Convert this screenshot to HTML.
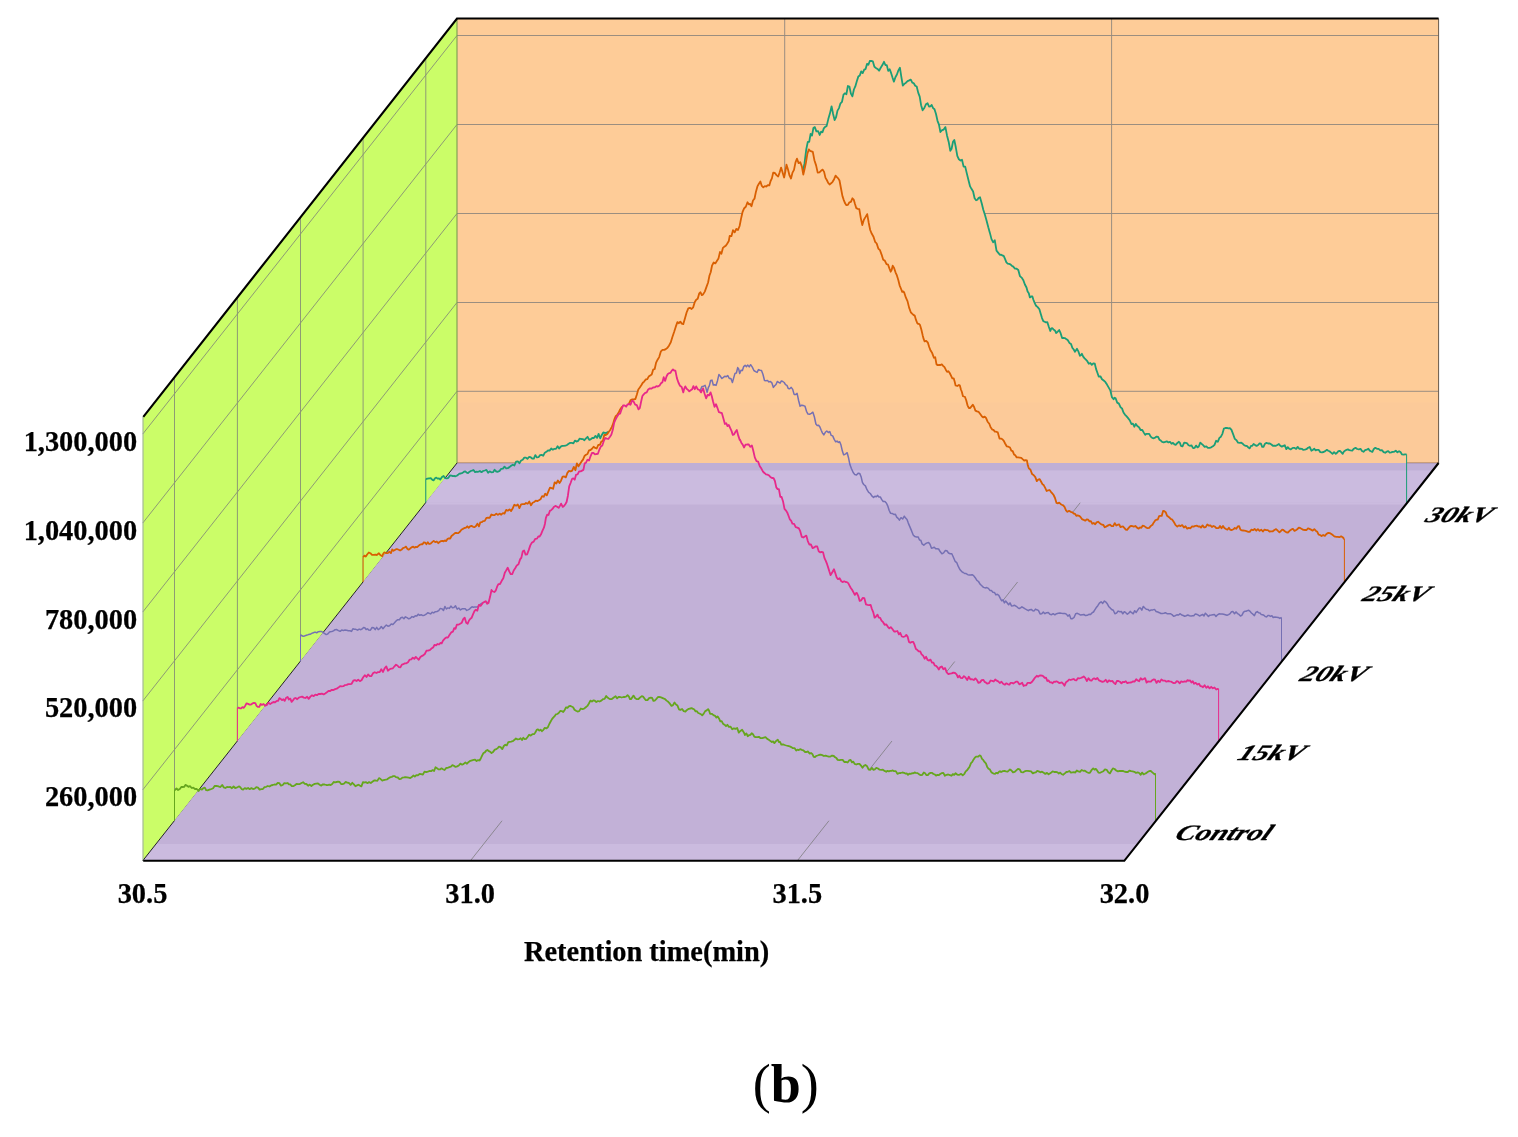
<!DOCTYPE html>
<html lang="en">
<head>
<meta charset="utf-8">
<title>Chromatogram (b)</title>
<style>
html,body{margin:0;padding:0;background:#fff;}
body{width:1518px;height:1137px;overflow:hidden;}
svg{display:block;}
text{font-family:"Liberation Serif","DejaVu Serif",serif;fill:#000;}
.ax{font-weight:bold;font-size:28.4px;stroke:#000;stroke-width:0.25px;stroke-linejoin:round;}
.zl{font-weight:bold;font-style:italic;font-size:22px;stroke:#000;stroke-width:0.3px;stroke-linejoin:round;}
.g{stroke:#787878;stroke-width:0.95;fill:none;opacity:0.78;}
.k{stroke:#000;stroke-width:2.1;fill:none;stroke-linecap:butt;stroke-linejoin:miter;}
.c{fill:none;stroke-linejoin:round;stroke-linecap:butt;}
</style>
</head>
<body>
<svg width="1518" height="1137" viewBox="0 0 1518 1137">
<defs>
<g id="bg">
<polygon points="142.7,860.8 142.7,416.9 457.0,18.5 457.0,463.0" fill="#CBFD68"/>
<rect x="457.0" y="18.5" width="981.5999999999999" height="444.5" fill="#FECC98"/>
<rect x="457.0" y="402.5" width="981.5999999999999" height="60.5" fill="#FCCA99"/>
<polygon id="floor" points="142.7,860.8 1124.3,860.8 1438.6,463.0 457.0,463.0" fill="#C2B1D7"/>
<g clip-path="url(#fc)">
<rect x="140" y="463" width="1300" height="7.5" fill="#BFAFD6"/>
<rect x="140" y="470.5" width="1300" height="34" fill="#CBBBDF"/>
<rect x="140" y="844" width="1300" height="18" fill="#CBBBDF"/>
</g>
</g>
<clipPath id="fc"><polygon points="142.7,860.8 1124.3,860.8 1438.6,463.0 457.0,463.0"/></clipPath>
<clipPath id="a-teal"><path d="M425.8,502.6 L425.8,479.2 L427.5,478.6 L429.1,478.3 L430.8,478.2 L432.4,479.8 L433.7,480.3 L435,478.2 L436.3,477.6 L437.6,478.6 L439,478.4 L440.3,479.6 L442,476.9 L443.6,475.9 L445.2,478.2 L446.9,478.3 L448.4,477.8 L450,475.5 L451.5,475.6 L452.8,476.1 L454.2,476 L455.5,476.3 L456.8,475.7 L458.1,474.8 L459.4,473.6 L460.9,473.5 L462.5,472.9 L464,471.7 L465.3,471.3 L466.7,472.7 L468,473 L469.3,471.9 L470.7,471 L472,470.6 L473.5,470 L475.1,472.1 L476.6,471.7 L478.2,471.8 L479.9,471 L481.5,472.2 L483.1,471 L484.8,470.5 L486.4,469.9 L488.1,472.8 L489.7,471.4 L491.4,472.3 L493,472.2 L494.6,469.8 L496.3,471.5 L497.9,471.8 L499.6,470.9 L501.2,468.8 L502.9,468.6 L504.5,466.7 L506.2,468.3 L507.8,468.1 L509.5,467.1 L511.1,465.8 L512.8,464.7 L514.4,465.5 L516.1,461.7 L517.8,461.3 L519.4,463.2 L521.1,460.5 L522.7,459.7 L524.3,457.6 L525.9,457.6 L527.4,458.8 L529,457 L530.6,457.2 L532.2,458.5 L533.8,458.6 L535.3,455.1 L536.9,457.4 L538.5,457.2 L540.1,455.1 L541.7,454.8 L543.2,455.8 L544.8,452.7 L546.4,451.8 L548,450.3 L549.6,450.6 L551.2,448.5 L552.8,449.7 L554.4,448.8 L556,448.9 L557.6,446.2 L559.1,448.6 L560.7,446.6 L562.3,445.9 L563.9,445.8 L565.5,445.7 L567,445 L568.6,443.8 L570.2,442.9 L571.8,442.9 L573.4,443.4 L574.9,440.6 L576.5,441.6 L578.1,440.9 L579.7,438.6 L581.3,439 L582.8,439.1 L584.4,440.2 L586,438.4 L587.6,436.8 L589.2,439.8 L590.7,439.3 L592.3,438 L593.9,438 L595.5,435.9 L597.1,437.9 L598.6,433.9 L600.2,438.3 L601.8,435 L603.3,432.5 L604.8,432.8 L606.3,433.1 L607.8,432 L609.4,431.6 L611.1,430 L612.7,432.2 L614.3,429.2 L615.9,430 L617.6,429.8 L619.2,425.3 L620.8,428 L622.4,427.1 L624.1,424.6 L625.7,424.1 L627.3,422.7 L628.9,422.8 L630.6,425.2 L632.2,422.4 L633.8,422.6 L635.5,419.4 L637.1,420 L638.7,418.7 L640.3,417.1 L642,417.4 L643.6,415.5 L645.2,416.4 L646.8,415.9 L648.5,411.1 L650.1,413.3 L651.7,410.7 L653.3,409.9 L655,411.7 L656.6,409.3 L658.2,409.6 L659.9,405.7 L661.5,406.9 L663.1,403.2 L664.7,402.9 L666.4,399.3 L668,402.5 L669.6,400.3 L671.2,399.1 L672.9,393.9 L674.5,397.6 L676.1,392.3 L677.7,393.3 L679.4,389.5 L681,389.8 L682.6,388.9 L684.2,386.7 L685.9,384.2 L687.5,383.5 L689.1,381.6 L690.7,376.2 L692.3,377.1 L694,374.9 L695.6,374.2 L697.2,369.3 L698.8,370.8 L700.4,367.5 L702.1,363.5 L703.7,366.6 L705.3,361.8 L706.9,359 L708.6,359.5 L710.2,355.5 L711.8,352.8 L713.4,349.2 L715.1,344.9 L716.7,343.4 L718.3,342.9 L719.9,340.6 L721.6,336.9 L723.2,332.3 L724.8,335.5 L726.4,330 L728.1,327.3 L729.7,324.7 L731.3,324.3 L733,319 L734.6,315.9 L736.2,313.2 L737.8,307.3 L739.5,309.1 L741.1,302.1 L742.7,301.5 L744.3,294.8 L746,296.5 L747.6,288 L749.2,289.1 L750.8,284.9 L752.5,279.3 L754.1,279.1 L755.7,277.7 L757.4,273.7 L759,265.3 L760.6,264.1 L762.2,265 L763.9,259.7 L765.5,253.7 L767.1,251.8 L768.7,249.5 L770.4,242.1 L772,242.7 L773.6,235.4 L775.2,236.8 L776.9,232.6 L778.5,227.1 L780.1,220.1 L781.8,219.7 L783.4,218.4 L785,210.8 L786.6,209.2 L788.3,205.9 L789.9,201.3 L791.5,198.4 L793.1,195 L794.8,187.5 L796.4,184.8 L798,181.9 L799.6,177 L801.3,175.5 L802.9,171.6 L804.5,163.4 L806.2,149.8 L807.8,141.9 L809.2,141.8 L810.6,133.9 L812,135.6 L813.4,128 L814.8,127.1 L816.4,131.4 L818.1,131.2 L819.7,135 L821.1,131.7 L822.5,132.2 L823.8,128.4 L825.2,126.8 L826.6,126.1 L828.3,119.1 L829.9,113.6 L831.6,106.3 L833.1,114 L834.6,120.1 L836.1,117 L837.5,110.6 L839,108.1 L840.5,103.3 L842,101.8 L843.5,94.6 L845,93.3 L846.4,94.2 L847.9,86 L849.4,86.5 L850.9,93.6 L852.4,96.4 L853.9,89.5 L855.3,86.4 L856.8,81.2 L858.3,76.6 L859.8,75.5 L861.2,71.3 L862.7,73.1 L864.2,69.7 L865.6,69.1 L867,63.9 L868.4,64.7 L869.8,61 L871.2,60.8 L872.8,61.3 L874.4,66.8 L875.9,67.9 L877.5,68.9 L879.1,70.7 L880.7,67.8 L882.4,65.1 L884,61.8 L885.4,65 L886.8,65.1 L888.2,70.9 L889.6,69.2 L891,72.7 L892.5,77.5 L893.9,81.6 L895.4,77.2 L896.9,74.5 L898.4,70.4 L899.9,67.7 L901.3,76.7 L902.8,85.5 L904.4,83.9 L906,82.7 L907.6,81.1 L909.2,80.4 L910.8,79.6 L912.3,82.6 L913.8,83.3 L915.2,85.8 L916.7,86.5 L918.2,92.6 L919.7,96.6 L921.1,105.2 L922.6,110.3 L924.3,108 L925.9,104.3 L927.6,103.3 L929,106.5 L930.4,106.3 L931.7,105 L933.1,108.1 L934.5,109.3 L936,114 L937.5,120.8 L938.9,124.3 L940.4,132 L942.1,130.2 L943.7,129.6 L945.4,127.1 L947,135.4 L948.7,141.9 L950.3,150.8 L951.6,148.7 L953,141.8 L954.3,139.9 L955.8,147.3 L957.3,155.8 L958.9,159.3 L960.5,160.5 L962,159.8 L963.6,166.6 L965.2,166.6 L966.8,173.4 L968.5,180.3 L970.1,186.4 L971.6,189.1 L973.1,191.5 L974.6,198.2 L976.1,200.3 L977.4,199.7 L978.7,197.8 L980,197.3 L981.7,203.2 L983.3,209.7 L985,215.1 L986.6,220.7 L988.3,227.3 L989.9,232.9 L991.5,239.1 L993.2,242.3 L994.8,240.3 L996.5,250.7 L998.1,252.6 L999.8,254.8 L1001.1,254.7 L1002.4,255.5 L1003.7,255.8 L1005,258.8 L1006.4,262.4 L1007.7,263.7 L1009,263.9 L1010.4,264.4 L1011.7,265.7 L1013.3,266.6 L1015,268.7 L1016.6,268.7 L1018.3,270 L1019.9,276.1 L1021.6,277.6 L1023.2,279.9 L1024.9,284.5 L1026.5,287.5 L1027.6,291.4 L1028.8,293.2 L1029.9,297.4 L1031.2,296.5 L1032.4,296.4 L1033.4,299.7 L1034.4,302.3 L1036.1,305.8 L1037.7,307.1 L1039.4,309.3 L1040.7,313.7 L1042,318.1 L1043.3,321.1 L1044.6,321.7 L1046,322.4 L1047.3,322.1 L1048.8,326.8 L1050.3,331 L1051.2,328.6 L1052.2,328.1 L1053.5,329.4 L1054.9,330.4 L1056.2,333 L1057.7,331.6 L1059.2,330 L1060.7,333.4 L1062.1,338 L1063.4,337.9 L1064.8,338.1 L1066.1,338.9 L1067.7,340 L1069.4,342.9 L1071,343.9 L1072.3,347.7 L1073.7,349.5 L1075,351.8 L1076,350.3 L1077,348.8 L1078.5,351.7 L1079.9,355.8 L1080.9,355.2 L1081.9,353.8 L1083.2,356.6 L1084.6,358.4 L1085.9,359.7 L1087.3,361.2 L1088.8,363.7 L1090.3,363 L1091.8,364.8 L1093.3,363.3 L1094.8,363.7 L1096.1,369.1 L1097.4,372.7 L1098.7,376.5 L1100.4,376.3 L1102,379.2 L1103.7,380.5 L1105.3,381.9 L1107,384.6 L1108.6,387.4 L1110.3,390.4 L1111.9,397.1 L1113.6,399.3 L1114.6,397.7 L1115.6,398.3 L1117.2,402.6 L1118.9,403.6 L1120.5,407.2 L1122,408.4 L1123.5,412.5 L1124.9,414.6 L1126.4,416.1 L1128.1,418.1 L1129.7,420.2 L1131.4,424 L1132.9,423.7 L1134.3,426.7 L1135.8,423.9 L1137.3,426 L1139,427.2 L1140.6,430 L1142.3,430 L1143.8,432.6 L1145.2,434.9 L1146.5,433.8 L1147.9,433.9 L1149.2,433.9 L1150.7,436.6 L1152.2,437.9 L1153.7,438.3 L1155.2,437.6 L1156.6,436.6 L1158.1,436.9 L1159.4,439.7 L1160.8,440.6 L1162.1,441.8 L1163.7,442.3 L1165.3,441.8 L1166.8,441.3 L1168.4,442.4 L1170,441.8 L1171.5,443.7 L1173,442.9 L1174.4,444.3 L1175.9,444.8 L1177.4,442.9 L1178.9,441.8 L1179.9,442.8 L1180.9,445.8 L1182.5,446.4 L1184.2,442.7 L1185.8,442.8 L1187.1,443.3 L1188.5,445.2 L1189.8,445.8 L1191.4,445.3 L1193.1,448.1 L1194.7,447.8 L1196.1,445.6 L1197.5,447.4 L1198.8,446.5 L1200.2,442.7 L1201.6,443.8 L1203.1,445.2 L1204.6,446.8 L1206.3,446.3 L1207.9,447.9 L1209.6,447.8 L1211.2,447.3 L1212.9,446.3 L1214.5,444.8 L1216.1,440.8 L1217.8,441.8 L1219.4,437.9 L1220.9,436.7 L1222.4,433.8 L1223.9,428.6 L1225.4,428 L1226.9,427.8 L1228.4,428.3 L1229.9,428.1 L1231.5,429.9 L1233.2,434.4 L1234.8,438.9 L1236.5,440.2 L1238.1,442.7 L1239.8,442.9 L1241.3,442.7 L1242.8,443.8 L1244.2,445.2 L1245.7,445.9 L1247,446 L1248.4,447.6 L1249.7,448.4 L1251,445.9 L1252.3,445.8 L1253.6,443.9 L1255.1,445.1 L1256.6,445.9 L1258.1,445 L1259.6,443.3 L1260.9,443.7 L1262.2,446.9 L1263.5,446.9 L1265,443.7 L1266.5,442.9 L1268.1,443.5 L1269.8,443.4 L1271.4,444.5 L1272.9,445.8 L1274.4,445.6 L1275.9,445.8 L1277.4,444.9 L1278.9,444 L1280.3,445.8 L1281.8,446.6 L1283.3,445.9 L1284.8,445.3 L1286.3,449.1 L1287.8,447.1 L1289.3,448.8 L1290.6,449.4 L1291.9,448.5 L1293.2,447.8 L1294.7,447.9 L1296.2,448.9 L1297.7,446.9 L1299.2,448.8 L1300.5,448.7 L1301.8,448.8 L1303.1,449.8 L1304.8,449.7 L1306.4,449.2 L1308.1,447.8 L1309.7,447 L1311.4,450.7 L1313,449.8 L1314.3,448.7 L1315.7,450.4 L1317,449.8 L1318.6,449.8 L1320.3,452.1 L1321.9,452.4 L1323.6,452 L1325.2,451.1 L1326.9,449.8 L1328.2,450.7 L1329.5,451.3 L1330.8,452.4 L1332.5,453.9 L1334.1,452.2 L1335.8,453.8 L1337.1,452.8 L1338.4,451.1 L1339.7,450.8 L1341.2,452.1 L1342.7,453.8 L1344,451.4 L1345.3,450.6 L1346.6,449.8 L1347.9,449.4 L1349.3,450.1 L1350.6,450.4 L1352.2,450.7 L1353.9,448.7 L1355.5,447.8 L1357.2,449 L1358.8,449.4 L1360.5,448.8 L1362,451 L1363.5,451.8 L1365.1,450.2 L1366.8,449.6 L1368.4,448.8 L1369.7,450.6 L1371.1,451.3 L1372.4,451.8 L1373.8,448.9 L1375.3,447.8 L1377,448.8 L1378.6,448.9 L1380.3,450.4 L1381.9,450.1 L1383.6,452.1 L1385.2,452.8 L1386.7,451.7 L1388.2,451.2 L1389.7,452.7 L1391.2,452.4 L1392.6,451.8 L1394.1,451.8 L1395.8,450.7 L1397.4,452.3 L1399.1,451.2 L1400.5,452.1 L1402,454.4 L1403.5,454.7 L1405.1,454.4 L1406.6,454.4 L1406.6,502.6 Z"/></clipPath>
<clipPath id="a-orange"><path d="M363.1,582 L363.1,557.2 L364.4,555.6 L365.8,556.6 L367.1,554.5 L368.8,552.5 L370.4,553.2 L372,554.8 L373.7,554.8 L375.4,554.7 L377,555 L377.9,554 L378.9,553.2 L380.5,555.3 L382.2,556.1 L383.2,553.8 L384.2,552.4 L385.5,552.8 L386.9,553.1 L388.2,552.8 L389.5,551.8 L390.9,553.1 L392.2,549.5 L393.5,550.8 L394.8,550 L396.1,549.2 L397.4,549.2 L398.7,549.8 L400.1,550.5 L401.4,549.8 L403,548.1 L404.7,547.5 L406,546.6 L407.3,548.7 L408.6,549.7 L409.9,548.8 L411.5,547.4 L413.2,546.6 L414.5,547.7 L415.9,546.9 L417.2,547.1 L418.5,545.9 L419.9,544.8 L421.2,544.2 L422.5,544.4 L423.8,542.3 L425.1,542.6 L426.4,544.2 L427.8,542.3 L429.1,544 L430.6,543.6 L432.2,542.1 L433.7,540.9 L435.2,542.1 L436.8,541.5 L438.3,543.2 L439.6,542 L441,541.1 L442.3,540.8 L443.6,541.3 L444.9,540.4 L446.2,541.1 L447.6,538.8 L448.9,538.3 L450.2,538.5 L451.5,536 L452.8,535 L454.1,533.9 L455.5,532.8 L456.8,533 L458.3,533.1 L459.9,531.8 L461.4,529.7 L462.9,528.9 L464.5,528 L466,527.7 L467.3,526.3 L468.7,527.8 L470,526.4 L471.5,525.9 L473.1,526.8 L474.6,527.1 L476,526 L477.4,523.6 L478.9,526.4 L480.3,522.4 L481.7,522.2 L483.1,521.1 L484.8,520.9 L486.4,517.9 L488.1,517.7 L489.7,517.8 L491.4,514.5 L493,515.1 L494.6,515.1 L496.3,513.6 L497.9,514.9 L499.6,513.6 L501.2,514.7 L502.9,513.2 L504.5,513.5 L506.2,509.9 L507.8,510.7 L509.5,509.4 L511.1,511 L512.8,508.2 L514.4,504.7 L516.1,505.7 L517.8,504.5 L519.4,508.1 L521.1,504.4 L522.7,504.2 L524.4,504.2 L526,503 L527.7,503.8 L529.3,501.5 L531,505.3 L532.6,502.7 L534.2,502 L535.8,500.6 L537.3,501.1 L538.9,500.3 L540.5,499.3 L542.1,496.1 L543.7,496.8 L545.2,493.7 L546.8,495.4 L548.4,491.4 L550,487.6 L551.6,488.1 L553.1,488.8 L554.7,482.3 L556.3,483.5 L557.9,480.5 L559.5,483.1 L561,480.7 L562.6,476.6 L564.2,476.5 L565.8,477.4 L567.4,472.9 L569,470.9 L570.6,471.4 L572.2,470.6 L573.8,466.9 L575.4,470.2 L576.9,463.3 L578.5,466.4 L580.1,463.7 L581.6,461.4 L583,459.6 L584.5,456 L586,454.8 L587.5,454 L589,450.3 L590.5,450 L592,448.8 L593.6,446.8 L595.2,447.9 L596.7,448.5 L598.3,444.8 L599.9,444.9 L601.4,441.3 L602.8,441.2 L604.3,434.9 L605.8,435 L607.3,434.1 L608.8,431.7 L610.2,430 L611.7,427.1 L613,424.2 L614.4,419.3 L615.7,416.2 L617.2,414.8 L618.7,412.6 L620.1,409.4 L621.6,407.3 L623,406.3 L624.5,406.8 L625.9,406.2 L627.5,406.9 L629.1,403.4 L630.7,400 L632.3,399.4 L633.9,399.3 L635.4,399 L636.8,394.8 L638.3,389.5 L639.8,387.4 L641.3,385.3 L642.8,382.8 L644.2,381.6 L645.7,379.5 L647.2,379.2 L648.7,376.6 L650.2,375.5 L651.7,374.6 L653.2,369.6 L654.7,369 L656.1,362.6 L657.6,359.7 L659.2,357.1 L660.9,351.3 L662.5,349.8 L664.2,349.9 L665.8,349.1 L667.5,347.8 L669.1,345.4 L670.8,342.3 L672.4,337 L674.1,332 L675.7,326.9 L677.4,322.1 L678.9,323.2 L680.3,321.6 L681.8,323.6 L683.3,324.1 L685,318.2 L686.6,312.5 L688.3,308.3 L689.9,307.8 L691.6,309 L693.2,307.3 L694.7,302.3 L696.2,299.8 L697.7,298.8 L699.2,293.4 L700.5,292.3 L701.8,295.1 L703.1,294.4 L704.8,291.6 L706.4,287.1 L708.1,282.5 L709.4,275.8 L710.7,272.2 L712,265.7 L713.7,262.5 L715.3,263.4 L717,260.8 L718.5,258.4 L720,252 L721.4,253.7 L722.9,247.9 L724.4,246.6 L725.8,245.8 L727.3,243.5 L728.8,241 L729.7,235.9 L731.4,236.2 L733,230.2 L734.7,232.4 L736.3,228.9 L738,230 L739.6,226 L741,218.9 L742.5,212.2 L744.2,208.2 L745.8,206.8 L747.5,202.3 L748.8,204.3 L750.2,204 L751.5,206.2 L753,200.5 L754.5,198.7 L755.9,191.9 L757.4,186.4 L758.9,183.7 L760.4,181.5 L761.8,185.9 L763.3,187.4 L764.8,186.1 L766.3,186.5 L767.8,185.1 L769.3,185.4 L770.6,181 L771.9,178.4 L773.2,172.6 L774.9,173 L776.5,175.1 L778.2,176.5 L779.7,172.2 L781.1,167.6 L782.6,172.6 L784.1,177.5 L785.3,171.7 L786.5,164.7 L788,169.6 L789.5,175.4 L791,178.5 L792.5,172.6 L794,169.9 L795.5,162.4 L797,158.7 L798.6,163.1 L800.3,162.2 L801.9,166.6 L803.3,174.6 L804.7,168.5 L806,162.2 L807.4,153.7 L808.8,149.4 L810.1,150.8 L811.5,151.3 L812.8,151.8 L814.4,160.2 L816.1,165.4 L817.7,172.6 L819.4,172.4 L821,170.8 L822.7,169.6 L824.1,171.9 L825.5,177.9 L826.8,180 L828.2,182.9 L829.6,184.5 L831.1,183.3 L832.6,181.8 L834.1,179.2 L835.6,175.6 L836.9,177.2 L838.2,178.4 L839.5,180.5 L841,188.5 L842.5,196.3 L843.8,200.1 L845.1,203.3 L846.4,205.2 L847.9,204.9 L849.4,202.3 L850.9,201.9 L852.4,198.3 L853.7,199.6 L855,204.1 L856.3,208.2 L857.8,208.8 L859.3,209.2 L860.8,218.1 L862.3,225 L863.9,219.7 L865.6,216.9 L867.2,214.1 L868.7,222.7 L870.2,230 L871.8,233.8 L873.5,236.7 L875.1,241.8 L876.7,243.5 L878.3,248.6 L880,250.2 L881.6,254.6 L883.2,259.8 L884.8,260.6 L886.5,264.2 L888.1,264.7 L889.4,268.4 L890.7,271.7 L891.7,269.8 L892.7,265.7 L894.1,267.9 L895.5,272.3 L896.9,275.4 L898.3,280 L899.6,285.3 L900.9,288.5 L902.2,291.9 L903.2,291.5 L904.2,292.5 L905.9,297.7 L907.5,301.1 L909.1,307.6 L910.8,312.3 L912.1,313.7 L913.4,314.9 L914.7,315.6 L916,319.9 L917.4,323.5 L918.7,323.8 L920,324.9 L921.4,329.8 L922.7,335.4 L923.7,339.2 L924.6,341.3 L926.2,340.8 L927.9,342.7 L929.2,347 L930.6,350.6 L932.2,353.1 L933.9,357.8 L935.2,357.2 L936.5,364.4 L937.8,365.1 L939.1,365 L940.5,365 L941.8,364.4 L943.1,365.9 L944.5,367.2 L945.8,369.7 L947.1,371.9 L948.4,371.2 L949.7,373 L951,375.7 L952.3,378.3 L953.7,378.3 L954.7,381.8 L955.6,385.5 L957.2,386 L958.9,384.9 L959.9,385.6 L960.9,389.5 L961.9,392 L962.9,396.1 L963.9,396.5 L964.9,396.8 L966.2,400.3 L967.5,405.3 L968.9,408 L970.2,408 L971.5,406.4 L972.8,404.7 L974.1,407 L975.4,410.6 L977,411.4 L978.7,411.9 L980.4,414.3 L982,416.5 L983.3,417.4 L984.7,416.6 L986,417.9 L987.6,421.7 L989.3,423.8 L990.6,427.2 L991.9,429.1 L992.2,429.7 L993.5,429.9 L994.9,431.7 L996.2,431.7 L997.8,432.4 L999.5,438.5 L1001.1,438.6 L1002.4,439.2 L1003.8,440.9 L1005.1,443.5 L1006.7,446.3 L1008.4,446.7 L1010,447.5 L1011.3,450.6 L1012.7,451.1 L1014,454.4 L1015.3,455.3 L1016.7,457.4 L1018,457.4 L1019.6,457.6 L1021.3,457.9 L1022.9,459.4 L1024.2,460.5 L1025.6,460.2 L1026.9,460.4 L1027.8,465.3 L1028.8,468.3 L1030.5,469.7 L1032.1,474.1 L1033.8,475.2 L1035.3,477.1 L1036.8,481.1 L1038.2,479.6 L1039.7,479.2 L1041,481.5 L1042.4,484.2 L1043.7,485.1 L1045.2,487.9 L1046.6,491 L1048.1,490.4 L1049.6,490 L1050.9,491.8 L1052.3,493.4 L1053.6,495 L1055,498 L1056.5,502.9 L1057.8,503.3 L1059.2,502.7 L1060.5,503.9 L1061.8,504.7 L1063.2,505.4 L1064.5,506.9 L1066,510.3 L1067.4,511.8 L1069.1,510.9 L1070.7,511.8 L1072.4,512.4 L1073.7,513.5 L1075,513.8 L1076.3,515.8 L1077.6,515.4 L1079,515.8 L1080.3,516.8 L1081.9,519.1 L1083.6,519.8 L1085.2,520.7 L1086.7,519.4 L1088.2,519.7 L1089.5,521.4 L1090.9,521.2 L1092.2,523.7 L1093.7,523 L1095.2,524.2 L1096.6,522.4 L1098.1,521.7 L1099.4,522.9 L1100.8,524 L1102.1,524.7 L1103.4,525 L1104.7,527.2 L1106,526.6 L1107.3,525.9 L1108.7,525.1 L1110,524.7 L1111.6,526.1 L1113.2,526.1 L1114.7,523.1 L1116.3,525.5 L1117.9,524.7 L1119.2,524.5 L1120.5,527.1 L1121.8,526.6 L1123.1,526.5 L1124.5,528.1 L1125.8,529.6 L1127.1,529.9 L1128.5,528.1 L1129.8,526.6 L1131.1,525.9 L1132.4,526.2 L1133.7,526.6 L1135.4,526 L1137,527.6 L1138.7,528.6 L1140,527.4 L1141.3,527.9 L1142.6,525.7 L1144.3,526.1 L1145.9,527.4 L1147.6,528.2 L1149.2,527.9 L1150.9,525.9 L1152.5,524.7 L1153.8,522.4 L1155.2,520.4 L1156.5,519.7 L1157.8,519.5 L1159.1,516.1 L1160.4,515.8 L1161.7,515.9 L1163.1,510.9 L1164.4,511.2 L1165.7,512.2 L1167.1,515.8 L1168.4,516.8 L1169.7,517.8 L1171,519.2 L1172.3,519.7 L1174,522.2 L1175.6,525.1 L1177.3,526.6 L1178.9,525.4 L1180.6,526.1 L1182.2,525.1 L1183.9,527.6 L1185.5,526.3 L1187.2,528.6 L1188.8,527.9 L1190.5,528.3 L1192.1,526.3 L1193.7,526.6 L1195.4,525.8 L1197,525.7 L1198.3,526.6 L1199.7,526.3 L1201,527.6 L1202.6,525.4 L1204.2,527.5 L1205.7,527.1 L1207.3,524.4 L1208.9,525.7 L1210.4,525.4 L1211.9,527 L1213.4,526 L1214.9,526.6 L1216.3,528.2 L1217.8,528.2 L1218.9,527.8 L1220,526 L1221.5,528.2 L1223,526 L1224.4,528 L1225.9,529 L1227.4,529.7 L1228.9,527.8 L1230.4,529.9 L1231.9,530 L1233.4,529.3 L1234.8,527.9 L1236.3,528.8 L1237.8,526.4 L1239.1,526.1 L1240.5,529.8 L1241.8,530.4 L1243.1,530.5 L1244.4,530.6 L1245.7,530.9 L1247,531.3 L1248.4,531.8 L1249.7,531.9 L1251.3,529.7 L1253,530.2 L1254.6,529 L1256.3,530.7 L1257.9,529.1 L1259.6,530.9 L1261.2,529.7 L1262.9,531.5 L1264.5,529.6 L1266.2,530.1 L1267.8,530.1 L1269.5,531.5 L1271.1,531.4 L1272.8,531.3 L1274.4,530 L1276.1,529.1 L1277.7,530.7 L1279.4,532.3 L1280.7,531.3 L1282,529.7 L1283.3,530 L1284.8,531.3 L1286.3,532.3 L1287.9,532.5 L1289.6,530.8 L1291.2,529.6 L1292.9,528.8 L1294.5,530.9 L1296.2,530 L1297.5,529 L1298.8,527.7 L1300.1,528 L1301.8,529 L1303.4,529.9 L1305.1,530 L1306.6,530 L1308,528.3 L1309.5,528.9 L1311,529.6 L1312.7,530.6 L1314.3,529.1 L1316,530.9 L1317.3,531.8 L1318.6,534.7 L1319.9,534.9 L1321.6,536.1 L1323.2,535 L1324.9,535.9 L1326.2,534.3 L1327.5,533.2 L1328.8,532.9 L1330.5,533.4 L1332.1,534.5 L1333.8,535.9 L1335.1,536.7 L1336.4,536.8 L1337.7,536.9 L1339.4,537.2 L1341.1,536.3 L1342.6,537.2 L1344.1,538.9 L1344.4,538.9 L1344.4,582 Z"/></clipPath>
<clipPath id="a-purple"><path d="M300.5,661.5 L300.5,634.6 L301.8,635.7 L303.2,636.2 L304.5,636 L305.8,635.4 L307.1,635.1 L308.4,634.6 L310.1,634.3 L311.7,633.4 L313.4,632.7 L315,632.1 L316.7,632.8 L318.3,631.7 L320,631.5 L321.6,631.5 L323.3,632.7 L324.8,633.7 L326.2,634.6 L327.5,634.1 L328.9,632.7 L330.2,631.7 L331.8,631.5 L333.5,630.9 L335.1,629.7 L336.8,629.6 L338.4,630.6 L340.1,631.3 L341.7,630.1 L343.4,630.5 L345,630.1 L346.7,630.3 L348.3,630.8 L350,630.7 L351.5,631.4 L352.9,628.8 L354.4,629.2 L355.9,629.3 L357.6,630.2 L359.2,629.1 L360.9,629.7 L362.2,628.9 L363.5,627.4 L364.8,627.7 L366.1,629.5 L367.5,628.8 L368.8,630.1 L370.4,630.2 L372.1,627.5 L373.7,627.7 L375.2,629.6 L376.7,627.4 L378.2,629.6 L379.7,628.7 L381.3,626.5 L383,628.7 L384.6,626.7 L386.3,625 L387.9,626.2 L389.6,625.7 L391.2,624 L392.9,624.5 L394.5,622.8 L396.1,620.9 L397.8,619.7 L399.4,619.8 L400.9,617.8 L402.4,617.3 L403.9,618.7 L405.4,616.8 L407,617.7 L408.7,618.8 L410.3,618.2 L412,616.6 L413.6,617.2 L415.3,615.8 L416.8,616 L418.2,614.2 L419.7,615.3 L421.2,614.8 L422.9,615.6 L424.5,615.2 L426.2,614.2 L427.7,612.7 L429.1,613.3 L430.6,613.9 L432.1,612.3 L433.7,612.9 L435.4,611.7 L437,611.5 L438.7,610.6 L440.3,608.4 L442,608.9 L443.5,610.4 L444.9,606.4 L446.4,609 L447.9,607.9 L449.4,608.4 L450.9,606.1 L452.4,607.7 L453.9,607.5 L455.5,605.9 L457.2,609.1 L458.8,608 L460.4,609.9 L462.1,608.8 L463.7,608.8 L465.2,608.7 L466.7,610.4 L468,609.9 L469.4,609.2 L470.7,607.8 L472,606.8 L473.3,607.2 L474.6,606.9 L475.9,606.9 L477.3,607 L478.6,605.9 L479.9,604.5 L481.2,603.6 L482.5,602.9 L483.8,603 L485.2,602.4 L486.5,602.5 L488.2,602.4 L489.8,600.8 L491.5,603.5 L493.2,599.4 L494.8,602.7 L496.5,600.6 L498.2,598.7 L499.9,597.3 L501.5,599.2 L503.2,599.6 L504.9,597.7 L506.5,597.7 L508.2,596.3 L509.9,595.1 L511.5,596.4 L513.2,595.4 L514.9,593.7 L516.5,594.2 L518.2,595.2 L519.9,590.9 L521.5,590.8 L523.2,590.3 L524.9,593.5 L526.5,591 L528.2,591.6 L529.9,588.3 L531.6,587.9 L533.2,585.9 L534.9,588 L536.6,586.4 L538.2,584.9 L539.9,585.3 L541.6,586.3 L543.2,580.6 L544.9,585.1 L546.6,580.4 L548.2,582.6 L549.9,577.1 L551.6,579.3 L553.2,575.4 L554.9,577 L556.6,574.5 L558.3,576.5 L559.9,571.4 L561.6,572.7 L563.3,573.3 L564.9,571.2 L566.6,569.9 L568.3,568.7 L569.9,567.8 L571.6,567.7 L573.3,563.9 L574.9,562.2 L576.6,563.6 L578.3,558.2 L580,557.1 L581.6,559.6 L583.3,555.6 L585,552.8 L586.6,555.9 L588.3,552.4 L590,550.2 L591.6,551.4 L593.3,547.5 L595,543.6 L596.6,545.7 L598.3,540.6 L600,540.2 L601.6,540.7 L603.3,533.5 L605,534 L606.6,530.7 L608.3,530.4 L610,528.8 L611.7,528.1 L613.3,525.9 L615,524.8 L616.7,522.8 L618.3,517.7 L620,517.4 L621.7,513.9 L623.3,515 L625,509.8 L626.7,509.9 L628.3,502.6 L630,502.5 L631.7,502.7 L633.4,496.2 L635,498.9 L636.7,495.9 L638.4,489.8 L640,488.2 L641.7,485.5 L643.4,484.1 L645,482 L646.7,480.3 L648.4,480.5 L650,475.6 L651.7,471.7 L653.4,468.6 L655,467.7 L656.7,462.8 L658.4,463.5 L660,460.1 L661.7,453.9 L663.4,457.2 L665.1,450.4 L666.7,449.3 L668.4,446.9 L670.1,444.3 L671.7,437.5 L673.4,437.8 L675.1,435.3 L676.7,430.7 L678.4,428.7 L680.1,424.2 L681.7,423.9 L683.4,423.1 L685.1,414.7 L686.8,418.3 L688.4,413 L690.1,406.4 L691.8,406.5 L693.4,403.6 L695.1,401.5 L696.8,397.6 L698.4,397.7 L700.1,392.4 L701.1,388.3 L702.1,386.4 L703.6,386.2 L705.1,385.4 L706.1,388.6 L707.1,392.4 L708.3,387.7 L709.4,385.6 L710.6,380.5 L712,380.1 L713.3,385 L714.6,384.7 L716,385.4 L717.5,380.7 L718.9,374.6 L720.4,376.3 L721.9,378.5 L723.4,377.4 L724.8,376.2 L726.3,376.7 L727.8,375.6 L729.3,378.5 L730.9,378.6 L732.4,382.5 L733.7,377.9 L735,373.4 L736.4,373 L737.7,367.6 L738.7,369 L739.7,373.6 L741,370.3 L742.4,370.6 L743.7,366.6 L745.1,365.2 L746.5,366.6 L747.8,365.1 L749.2,366.9 L750.6,364.7 L752.3,367.2 L753.9,370.5 L755.6,371.6 L757.1,372.4 L758.5,369.6 L760,370.3 L761.5,370.6 L763,374.5 L764.5,380.5 L766,380.8 L767.5,380.4 L768.9,381.9 L770.4,381.5 L771.9,382.9 L773.4,387.4 L774.7,385.7 L776,384.5 L777.3,381.5 L778.7,382.3 L780.1,383.2 L781.4,380.9 L782.8,381.5 L784.2,382.5 L785.5,384.6 L786.9,385.3 L788.2,388.4 L789.7,388.7 L791.2,387.4 L792.7,389.4 L794.1,394.4 L795.6,394.6 L797.1,393.4 L798.6,400.5 L800.1,406.2 L801.7,405.2 L803.4,405.6 L805,406.2 L806.5,411.3 L808,414.1 L809.6,414.2 L811.3,413.4 L812.9,412.2 L814.4,417 L815.9,424 L817.2,425.4 L818.6,425.2 L819.9,427 L821.2,430.2 L822.5,433.1 L823.8,434.9 L825.3,432.3 L826.8,431 L828.3,432.5 L829.8,431.6 L831.2,435.4 L832.7,435.9 L834.2,439.4 L835.7,441.8 L837,441.1 L838.4,442.4 L839.7,441.8 L841,445.1 L842.3,450.8 L843.6,454.7 L844.8,454.4 L846,453.7 L847.2,452.7 L848.5,457.7 L849.9,464.6 L851.5,468.8 L853.2,472.5 L854.8,474.6 L856.5,475 L858.1,473.2 L859.8,473.6 L861.1,476.7 L862.4,482.4 L863.7,484.5 L865.4,485.9 L867,489.7 L868.7,492.4 L870.3,493.5 L872,496.1 L873.6,497.4 L874.9,496.2 L876.3,496.8 L877.6,495.4 L878.9,497 L880.3,496.9 L881.6,499.4 L883.2,501.5 L884.9,501.6 L886.5,503.3 L887.8,506.1 L889.2,510.5 L890.5,513.2 L892.1,513.4 L893.8,514.4 L895.4,514.2 L896.7,517.1 L898.1,518.4 L899.4,520.1 L901,517.7 L902.7,519 L904.3,516.2 L905.6,518.1 L907,519.6 L908.3,523.1 L909.9,526.9 L911.6,530.9 L913.2,535 L914.9,536.6 L916.5,536.9 L918.2,537 L919.5,540 L920.8,540.3 L922.1,543.9 L923.8,545.2 L925.4,543.7 L927.1,542.9 L928.6,542.5 L930,544.3 L931.5,548.2 L933,547.8 L934.3,547.3 L935.7,548.7 L937,548.8 L938.6,549 L940.3,551.8 L941.9,553.8 L943.6,552.9 L945.2,550.6 L946.9,550.8 L948.5,553 L950.2,553.7 L951.8,553.8 L953.5,557.5 L955.1,561.3 L956.8,562.7 L958.4,566.7 L960.1,569.8 L961.7,571.6 L963.2,572.5 L964.7,573.5 L966.1,573.5 L967.6,574.6 L969.1,575.1 L970.6,574.9 L972.1,574.7 L973.6,575.6 L975.2,577.7 L976.9,580.3 L978.5,581.5 L980.2,584.3 L981.8,585.8 L983.5,587.4 L985.1,587.9 L986.8,587.6 L988.4,588.4 L989.9,590.4 L991.4,590.6 L992.9,592.2 L994.4,592.4 L995.9,594.9 L997.3,594.3 L998.8,595.3 L1000.3,598.3 L1001.7,600.8 L1003,599.8 L1004.4,602.9 L1005.7,601 L1007.1,602.8 L1008.6,604.8 L1010,602.9 L1011.5,605.9 L1013,605.8 L1014.7,605.3 L1016.3,606.3 L1018,607.8 L1019.3,608.5 L1020.6,607.9 L1021.9,606.8 L1023.6,607.9 L1025.2,608.9 L1026.9,609.8 L1028.4,610.7 L1029.8,609.7 L1031.3,609.4 L1032.8,610.8 L1034.1,610.9 L1035.5,609.1 L1036.8,609.8 L1038.4,610.4 L1040.1,613.9 L1041.7,613.7 L1043.3,612.1 L1045,613.7 L1046.6,612.7 L1048.3,612.4 L1049.9,614.2 L1051.6,614.7 L1053.2,613.7 L1054.9,614.8 L1056.5,613.7 L1058.2,613.3 L1059.8,613 L1061.5,613.3 L1063.1,613.5 L1064.8,613.5 L1066.4,614.1 L1067.9,616.1 L1069.4,614.8 L1070.9,618.7 L1072.4,618.7 L1074,617.5 L1075.7,613.7 L1077.3,613.3 L1079,614.2 L1080.6,615.1 L1082.3,614.7 L1083.9,614.5 L1085.6,615.6 L1087.2,615.3 L1088.9,614.3 L1090.5,614.6 L1092.2,612.7 L1093.5,612 L1094.8,609.9 L1096.1,607.8 L1097.8,605.7 L1099.4,603.1 L1101.1,601.8 L1102.7,603.4 L1104.4,601 L1106,602.2 L1107.3,603.8 L1108.7,606.4 L1110,607.8 L1111.6,609.5 L1113.3,610.3 L1114.9,613.7 L1116.6,613 L1118.2,611.1 L1119.9,611.7 L1121.4,611.5 L1122.8,613.8 L1124.3,611.7 L1125.8,612.7 L1127.3,614.2 L1128.8,613.1 L1130.2,611.4 L1131.7,612.7 L1133.2,613.8 L1134.7,610.7 L1136.2,612.4 L1137.7,610.2 L1139.1,608.1 L1140.5,608.1 L1141.8,610.2 L1143.2,606.4 L1144.6,607.8 L1146.3,609.3 L1147.9,609.4 L1149.6,610.8 L1151.2,609.9 L1152.9,609.9 L1154.5,609.4 L1156.1,611.5 L1157.8,612 L1159.4,612.7 L1160.9,613.5 L1162.4,613.4 L1163.9,613.3 L1165.4,612.7 L1167,613.7 L1168.7,613.7 L1170.3,613.7 L1172,614.6 L1173.6,616.2 L1175.3,615.7 L1176.9,614.8 L1178.6,615 L1180.2,613.7 L1181.7,615 L1183.2,615.5 L1184.7,616.2 L1186.2,615.7 L1187.8,615 L1189.5,615.8 L1191.1,616.1 L1192.4,615.7 L1193.8,615.7 L1195.1,614.1 L1196.6,614.3 L1198,614.9 L1199.5,616 L1201,615.3 L1202.5,614.4 L1204,615.9 L1205.4,613.2 L1206.9,614.7 L1208.4,616.4 L1209.9,615.2 L1211.4,615 L1212.9,614.7 L1214.4,614.4 L1216,616.5 L1217.5,614.8 L1219.1,613.8 L1220.6,614 L1222.2,613.9 L1223.7,614.2 L1225.3,614.7 L1227,615.3 L1228.6,614.6 L1230.1,613.6 L1231.5,611.8 L1233,611.6 L1234.5,613.7 L1236,611.9 L1237.5,613.6 L1239,614.4 L1240.5,616.1 L1242,615.2 L1243.5,612.2 L1244.8,611.3 L1246.1,611.2 L1247.4,610.6 L1248.7,610.2 L1250.1,611.4 L1251.4,613 L1252.9,614.2 L1254.4,615.6 L1255.8,612.5 L1257.3,611.6 L1258.6,612.7 L1260,613 L1261.3,614.6 L1262.6,614.7 L1263.9,615.3 L1265.2,616.5 L1266.5,616.9 L1267.9,615.4 L1269.2,615.6 L1270.5,616.4 L1271.9,615.8 L1273.2,617.5 L1274.9,617 L1276.5,617.2 L1278.2,617.4 L1279.8,618.4 L1281.5,617.5 L1281.5,661.5 Z"/></clipPath>
<clipPath id="a-pink"><path d="M237.4,741 L237.4,707.8 L237.6,707.8 L238.8,707.7 L239.9,708.3 L241.1,708.4 L242.4,707.2 L243.8,707.8 L245.1,705.9 L246.6,703.3 L248.1,703.9 L249.6,704.6 L251,704.5 L252.5,703.4 L254,702.9 L255.3,703.2 L256.7,706.1 L258,706.9 L259.3,706.9 L260.6,704 L261.9,704.9 L263.6,704 L265.2,705.8 L266.9,704.9 L268.5,702.6 L270.2,704.1 L271.8,702.9 L273.5,702 L275.1,702.3 L276.8,700.9 L278.1,700.9 L279.4,698.1 L280.7,698.9 L282,700.1 L283.4,699.3 L284.7,700.9 L286.1,697.8 L287.6,697 L288.9,699.5 L290.3,698.6 L291.6,701.9 L292.9,700.4 L294.3,698.4 L295.6,698 L297.2,699.2 L298.9,697.6 L300.5,697 L302.1,696.6 L303.8,697.6 L305.4,698 L307.1,696.8 L308.7,698.9 L310.4,696.6 L312,695.3 L313.7,696.1 L315.3,694.6 L317,695.2 L318.6,693.9 L320.3,694 L321.9,693.7 L323.6,694.4 L325.2,693.4 L326.9,692.2 L328.5,691 L330.2,691 L331.8,689.8 L333.5,690 L335.1,689.1 L336.8,688.7 L338.4,687.6 L340.1,686.1 L341.7,686.4 L343.4,686.2 L345,685.1 L346.7,684.9 L348.3,684.1 L350,684.1 L351.6,683.8 L353.3,680.7 L354.9,680.1 L356.6,681 L358.2,679.6 L359.9,681.1 L361.5,680.3 L363.2,677.2 L364.8,675.2 L366.5,677 L368.1,674.5 L369.8,676.2 L371.4,676 L373.1,673.1 L374.7,672.2 L376.4,673 L378,672.1 L379.7,672.2 L381.3,669.2 L383,672 L384.6,668.3 L386.3,666.4 L387.9,670.7 L389.6,669.3 L391.2,668.6 L392.9,668.3 L394.5,666.3 L396,664.7 L397.4,665.5 L398.9,667.1 L400.4,667.3 L401.9,664.6 L403.4,664.2 L404.9,663.3 L406.4,663.3 L408,662.3 L409.7,659.6 L411.3,659.4 L412.8,657.6 L414.3,658.9 L415.8,656.9 L417.3,658.4 L418.8,659.7 L420.2,657.2 L421.7,656.1 L423.2,655.4 L424.8,654 L426.5,650.7 L428.1,650.5 L429.8,650.2 L431.4,648.6 L433.1,647.5 L434.6,644.8 L436.1,645.3 L437.5,644 L439,644.5 L440.3,643 L441.7,643.3 L443,640.6 L444.6,638.8 L446.3,637.4 L447.9,637.6 L449.6,634.8 L451.2,632.4 L452.9,631.7 L454.2,628.1 L455.5,628.9 L456.8,624.7 L458.5,624.7 L460.1,623.8 L461.8,622.7 L463.2,619.2 L464.7,617.7 L466.2,622.7 L467.7,623.7 L469,620.5 L470.4,618.7 L471.7,617.7 L473,614.4 L474.3,611.4 L475.6,609.8 L477.3,610.7 L478.9,604.9 L480.6,605.9 L481.9,604.3 L483.2,602.5 L484.5,601.9 L485.8,601.2 L487.2,603.7 L488.5,602.9 L490,597.1 L491.5,590 L492.9,591.5 L494.4,592 L495.7,590.7 L497.1,586.7 L498.4,584.1 L500,584 L501.7,580.8 L503.3,578.2 L504.8,572.7 L506.2,570.4 L507.7,567.7 L509.2,571.4 L510.8,574.2 L512.3,574 L513.7,570.5 L515.2,568.3 L516.8,565.4 L518.5,564.3 L520.1,559.4 L521.4,557.6 L522.8,551.2 L524.1,550.5 L525.6,554.6 L527.1,554.4 L528.7,550.1 L530.4,545.1 L532,542.5 L533.7,541.6 L535.3,538.8 L537,538.6 L538.3,536.4 L539.6,536.5 L540.9,534.6 L542.4,530.9 L543.9,527.7 L544.9,524 L545.9,517.8 L547.2,514.6 L548.5,515 L549.8,510.9 L551.1,510.2 L552.5,508.9 L553.8,506.9 L555.4,505.9 L557.1,506.7 L558.7,507.9 L559.9,505.9 L561.1,503.6 L562.7,506.9 L564,506 L565.3,504.3 L566.6,502 L567.9,495.7 L569.2,486.4 L570.6,483 L572,479 L573.3,478.3 L574.7,479.7 L576.1,474.6 L577.6,474.4 L579.1,471.3 L580.6,471.4 L582.1,470.6 L583.4,469.9 L584.7,463.4 L586,462.7 L587.5,459.7 L589,460.6 L590.5,456.3 L592,452.8 L593.5,453 L595,454.4 L596.4,454 L597.9,453.8 L599.4,449.5 L600.8,446.6 L602.3,445.6 L603.8,440.9 L605.3,438 L606.8,438.6 L608.3,439 L609.8,437 L611.3,434.7 L612.8,429.8 L614.2,422.6 L615.7,419.2 L617.2,416.4 L618.7,414.1 L620.1,413.7 L621.6,409.3 L623.1,405.5 L624.6,405.3 L626.1,406.7 L627.6,404.3 L629.1,404 L630.5,404.7 L632,400.6 L633.5,401.3 L635.2,404.7 L636.8,405.2 L638.5,409.3 L639.8,408.1 L641.1,401.7 L642.4,396 L643.7,394.4 L645.2,392.9 L646.7,392.3 L648.2,389.4 L649.7,388.4 L651.3,388.7 L653,387.5 L654.6,387.4 L656.3,386.2 L657.9,386.5 L659.6,385.4 L661,383.3 L662.4,382.2 L663.7,377.2 L665.1,380.9 L666.5,376.5 L667.8,374 L669.1,373.2 L670.5,372.8 L671.8,370.6 L673,369.5 L674.2,370.5 L675.4,370.6 L676.9,378.1 L678.4,382.5 L680,385.8 L681.7,387 L683.3,392.4 L684.3,388.4 L685.3,386.4 L686.6,388.8 L688,389.9 L689.3,391.4 L690.7,390.3 L692.1,389.3 L693.4,386.2 L694.8,389.2 L696.2,386.4 L697.8,389.4 L699.5,390 L701.1,392.4 L702.1,390.1 L703.1,388.4 L704.6,393.7 L706.1,398.3 L707.6,394.9 L709.1,395.4 L710.6,392.4 L711.8,396.3 L713,401.3 L714.5,406.8 L716,404.2 L717.4,407.8 L718.9,412.2 L720.4,412.6 L721.9,413.2 L723.4,418.4 L724.9,424 L726.2,423.2 L727.5,426.1 L728.8,425 L730.1,427.8 L731.5,430.9 L732.8,434.9 L734.1,434.4 L735.5,431.7 L736.8,430 L738.2,435.4 L739.7,439.9 L740,439.6 L741.3,442.7 L742.7,444.6 L744,447.5 L745.5,444.6 L746.9,444.5 L748.6,444.3 L750.2,446.9 L751.9,445.5 L753.3,450.7 L754.8,457.4 L756.5,461.1 L758.1,461.6 L759.8,466.3 L761.4,468.6 L763.1,471.8 L764.7,473.2 L766,474.4 L767.4,474.6 L768.7,475.2 L770.3,476.9 L772,478 L773.6,478.2 L774.9,481 L776.3,487.4 L777.6,489.1 L778.9,489.2 L780.3,496.8 L781.6,497 L783,501.2 L784.5,508.8 L785.8,510.3 L787.2,512.4 L788.5,515.8 L789.8,519.3 L791.1,520.7 L792.4,523.7 L794.1,523.8 L795.7,527.1 L797.4,527.6 L798.9,528.4 L800.3,531.4 L801.8,536.9 L803.3,537.5 L804.8,536.5 L806.3,535.6 L807.8,541.1 L809.3,544.5 L810.9,544.3 L812.6,548.1 L814.2,547.4 L815.7,546.3 L817.2,546.4 L818.7,551.2 L820.1,552.4 L821.6,551.8 L823.1,552.4 L824.4,557.9 L825.8,560.9 L827.1,564.2 L828.3,567.9 L829.4,571.5 L830.6,575.1 L832.3,572.3 L834,569.2 L835.3,573.1 L836.7,577.5 L838,579.1 L839.6,578.3 L841.3,581.2 L842.9,582.1 L844.2,581.3 L845.6,582 L846.9,582.1 L848.2,583.1 L849.5,585.6 L850.8,588 L852.1,589.8 L853.5,592.4 L854.8,594.9 L855.8,593.4 L856.8,592.9 L858.2,595.8 L859.7,600.9 L861.2,600.3 L862.7,597.9 L864.3,598.1 L866,604.4 L867.6,604.8 L869.1,605.1 L870.6,604.8 L871.9,609 L873.3,612.4 L874.6,617.7 L876,616.5 L877.5,614.7 L878.8,617.7 L880.2,617.9 L881.5,620.6 L883.1,622.2 L884.6,624.8 L886.2,624.3 L887.7,626.6 L889.3,628.4 L890.8,627.1 L892.4,629 L894.1,631.5 L895.7,631.5 L897.4,631 L898.9,634.4 L900.3,633 L901.8,636.5 L903.3,636.9 L904.8,636.5 L906.3,634.9 L907.6,636.6 L909,642 L910.3,642.8 L911.8,641.9 L913.2,641.8 L914.5,644.7 L915.9,649 L917.2,649.8 L918.7,651.3 L920.2,651.3 L921.6,654.3 L923.1,655.7 L924.6,658.7 L926.1,656.8 L927.6,660 L929.1,660.6 L930.5,659.6 L932,662.7 L933.4,662.6 L934.8,665.5 L936.1,665.9 L937.5,667.4 L938.8,669.5 L940.3,667.1 L941.8,666.5 L943.4,669.3 L945.1,668.1 L946.7,672.4 L948.4,674.1 L950,673.7 L951.7,673.4 L953.3,672.6 L955,673 L956.6,674.4 L957.9,677.4 L959.3,675.7 L960.6,677.8 L962.2,678.2 L963.9,676.1 L965.5,677.4 L967.2,680.1 L968.8,676.7 L970.5,679.4 L972.1,679.2 L973.8,680 L975.4,678.4 L976.9,680 L978.4,682.9 L980,682.4 L981.7,680.1 L983.3,679.8 L984.6,681.9 L986,682.6 L987.3,683.7 L988.9,683.2 L990.6,680.5 L992.2,680.9 L993.7,681.5 L995.2,679.5 L996.7,680.7 L998.2,681.3 L999.8,683 L1001.5,681.7 L1003.1,683.7 L1004.8,684.7 L1006.4,683.3 L1008.1,684.3 L1009.4,684.6 L1010.7,682.8 L1012,682.9 L1013.3,683.5 L1014.7,682.6 L1016,681.7 L1017.6,681.7 L1019.3,684.3 L1020.9,683.7 L1022.2,682.8 L1023.6,686 L1024.9,685.3 L1026.2,685.3 L1027.5,682.8 L1028.8,682.9 L1030.5,683 L1032.1,681.7 L1033.8,679.4 L1035.3,677.3 L1036.8,675.8 L1038.1,676.7 L1039.4,675.6 L1040.7,675.4 L1042,675.6 L1043.4,676.3 L1044.7,677.8 L1046,677.7 L1047.3,681 L1048.6,680.4 L1049.9,682.3 L1051.3,682.3 L1052.6,683.3 L1053.9,681.7 L1055.2,681.9 L1056.5,681.3 L1057.8,682 L1059.2,683 L1060.5,682.9 L1061.8,682.3 L1063.2,683.8 L1064.5,685.7 L1066,682.2 L1067.4,681.3 L1069.1,679.5 L1070.7,680 L1072.4,679.4 L1073.7,679 L1075,680.2 L1076.3,680.4 L1077.8,678.2 L1079.3,678.4 L1080.8,678 L1082.2,677.4 L1083.7,676.4 L1085.2,677.8 L1086.9,681 L1088.5,678.2 L1090.2,680.4 L1091.5,680.7 L1092.8,679 L1094.1,678.4 L1095.8,679.3 L1097.4,678 L1099.1,680.4 L1100.7,681.1 L1102.4,681.9 L1104,681.3 L1105.7,679.8 L1107.3,682.3 L1109,680.4 L1110.6,681.3 L1112.3,680.9 L1113.9,682.9 L1115.4,684.1 L1116.9,680.9 L1118.4,681 L1119.9,681.7 L1121.4,683.4 L1122.8,682 L1124.3,682.1 L1125.8,681.3 L1127.3,683.2 L1128.8,682.6 L1130.2,682.5 L1131.7,682.3 L1133.2,681.3 L1134.7,681.6 L1136.2,679.3 L1137.7,680.4 L1139.2,681.2 L1140.7,678.2 L1142.1,679.6 L1143.6,679 L1145.1,678.1 L1146.6,682.6 L1148.1,681.3 L1149.6,681.7 L1150.9,681.6 L1152.2,680.2 L1153.5,679.4 L1155,679.7 L1156.5,682.9 L1158.1,680.7 L1159.8,682.1 L1161.4,679.4 L1163.1,680.7 L1164.7,680.6 L1166.4,681.7 L1168,681 L1169.7,681.4 L1171.3,681.7 L1172.6,682.6 L1174,683.2 L1175.3,682.9 L1176.8,681.2 L1178.2,681.7 L1179.7,683.4 L1181.2,681.3 L1182.9,682 L1184.5,681.4 L1186.2,681.7 L1187.5,680.1 L1188.8,680.8 L1190.1,680.4 L1191.4,682.5 L1192.8,681.3 L1194.1,683.7 L1195.7,682.8 L1197.4,684.5 L1199,683.7 L1200.3,686 L1201.7,686.3 L1203,687.3 L1204.6,685.3 L1206.3,687.8 L1207.9,686.3 L1209.6,688.3 L1211.2,686.8 L1212.9,688.3 L1214.5,687.5 L1216.2,689.5 L1217.8,688.9 L1218.6,688.9 L1218.6,741 Z"/></clipPath>
<clipPath id="a-control"><path d="M174.5,820.8 L174.5,790 L174.8,790 L176.5,788.5 L178.1,790 L179.8,789 L181.3,787 L182.8,787 L184.1,786.9 L185.4,784.9 L186.7,785.6 L188.4,786.8 L190,786.2 L191.7,788 L193.3,787.6 L195,789 L196.6,789 L197.6,789.7 L198.6,791 L200.2,788.8 L201.9,789.6 L203.5,788 L204.8,787.6 L206.2,790.2 L207.5,790.4 L208.8,789.9 L210.2,789.4 L211.5,789 L213.1,788.2 L214.8,785.8 L216.4,786 L217.7,786.2 L219.1,786.7 L220.4,787 L221.4,785.8 L222.3,785 L223.8,787.4 L225.3,788 L227,786.9 L228.6,787.1 L230.3,787 L231.9,788.2 L233.6,786.5 L235.2,788 L236.5,787.7 L237.9,787 L239.2,786.4 L240.5,787.5 L241.8,789.2 L243.1,789.6 L244.8,788.1 L246.4,788.9 L248.1,788 L249.7,789.2 L251.4,788.1 L253,789 L254.7,788.6 L256.3,787.2 L258,787.6 L259.6,789.6 L261.3,789.1 L262.9,789 L264.5,787.2 L266.2,786.8 L267.8,786 L269.5,786.5 L271.1,785.4 L272.8,785 L274.4,784.5 L276.1,784.6 L277.7,783 L279.4,783.2 L281,785.7 L282.7,785 L284.3,783.1 L286,783.4 L287.6,783 L288.9,784.3 L290.3,784.4 L291.6,786 L293.2,786.2 L294.9,785.3 L296.5,784 L298.2,784.2 L299.8,784.1 L301.5,783 L303.1,782.2 L304.8,783.9 L306.4,784 L308.1,785.7 L309.7,784.6 L311.4,786 L313,784.8 L314.7,783.9 L316.3,783.6 L318,783.4 L319.6,784.7 L321.3,785.6 L322.9,784.3 L324.6,784.5 L326.2,785 L327.7,785.1 L329.2,784.7 L330.7,785 L332.2,784 L333.7,782 L335.1,782.3 L336.6,782 L338.1,781.7 L339.6,782 L341.1,784 L342.5,784.2 L344,783.6 L345.7,781.9 L347.3,782.7 L349,783 L350.6,784.8 L352.3,782.8 L353.9,784.4 L355.4,786.3 L356.9,785.4 L358.4,784.7 L359.9,785.6 L361.4,786.4 L362.9,782.2 L364.3,782.5 L365.8,782.1 L367.5,783.2 L369.1,782.1 L370.8,783 L372.4,781.8 L374.1,780.5 L375.7,780.5 L377.3,780.9 L379,778.1 L380.6,779.1 L382.3,780.6 L383.9,780 L385.6,779.7 L387.2,779.3 L388.9,778 L390.5,777.1 L391.8,776.8 L393.2,776.2 L394.5,776.1 L396.1,777.2 L397.8,777.5 L399.4,779.1 L400.9,778.9 L402.4,777.6 L403.9,777.4 L405.4,777.1 L407,777.4 L408.7,777.7 L410.3,778.1 L411.8,777.1 L413.3,775.5 L414.8,776.6 L416.3,775.1 L417.9,775.3 L419.6,774 L421.2,774.1 L422.9,774.6 L424.5,771.6 L426.2,772.2 L427.8,771.7 L429.5,771 L431.1,771.2 L432.6,770.1 L434.1,771 L435.5,767.3 L437,768.2 L438.5,769.4 L440,769.4 L441.5,768.3 L443,769.2 L444.6,770 L446.3,767.9 L447.9,767.8 L449.4,767.1 L450.9,766.7 L452.4,765.2 L453.9,765.8 L455.5,766.9 L457.2,766.4 L458.8,765.5 L460.4,763.6 L462.1,764.7 L463.7,763.9 L465.4,762.4 L467,763.7 L468.7,761.9 L470.3,760.8 L472,760.3 L473.6,759.9 L475.1,759.7 L476.6,761 L478.1,760.1 L479.6,760.5 L480.9,758.2 L482.2,755.4 L483.5,753 L484.8,752.4 L486.2,750.6 L487.5,750 L488.8,751.1 L490.2,751.8 L491.5,753 L493.1,751.9 L494.8,749.6 L496.4,749.1 L497.7,748.1 L499,746.7 L500.6,747.1 L502.3,749.1 L503.8,746 L505.3,744.7 L506.8,745.4 L508.3,742.1 L509.8,741.8 L511.2,741.6 L512.7,741.2 L514.2,740.1 L515.9,738.5 L517.5,739.4 L519.2,739.2 L520.6,738.3 L522,740 L523.3,737.8 L524.7,739.1 L526.1,738.8 L527.6,737 L529.1,734.8 L530.7,735.6 L532.4,734.2 L534,734.2 L535.3,732.5 L536.7,729.9 L538,729.3 L539.3,730.6 L540.6,729.6 L541.9,731.2 L543.4,729.8 L544.8,727.9 L546.3,728.4 L547.8,727.3 L549.3,724 L550.8,721.3 L552,719.1 L553.2,717.6 L554.4,716.4 L555.8,714.4 L557.3,714 L558.7,713 L560.2,711 L561.7,711.1 L563.2,712.1 L564.7,709.9 L566.1,707.3 L567.5,707.8 L568.8,706.4 L570.2,705.9 L571.6,706.5 L573.1,707.2 L574.5,709.7 L576,710.8 L577.5,711.5 L579.2,711.1 L580.8,708.5 L582.5,709.1 L584.1,708.6 L585.8,707.2 L587.4,705.9 L588.9,703.5 L590.4,700.6 L591.9,701.6 L593.3,700.4 L594.8,700.7 L596.3,702 L598,701 L599.6,701.5 L601.3,700.6 L602.9,699.2 L604.6,698.9 L606.2,696 L607.5,697.6 L608.9,698.5 L610.2,699.2 L611.5,699.2 L612.8,698.2 L614.1,697.2 L615.6,696.3 L617.1,698.4 L618.6,696.9 L620.1,697 L621.7,697.5 L623.4,697 L625,697 L626.3,696.5 L627.6,695.2 L628.8,696.3 L630,699.2 L631.2,699 L632.3,697.2 L633.5,695.6 L635.2,698.2 L636.9,699.2 L638.5,699 L640.2,697.4 L641.8,696.2 L643.1,696.6 L644.5,698.5 L645.8,700.2 L647.5,700.1 L649.1,698.1 L650.8,697.6 L652.1,697.8 L653.4,700.9 L654.7,700.6 L656.2,699.2 L657.7,697.2 L659,697 L660.3,697.2 L661.6,697.6 L663.3,698.3 L664.9,699 L666.6,700.6 L668.2,701.8 L669.9,703.7 L671.5,705.9 L673,705.1 L674.5,702.5 L676,704.6 L677.5,705.6 L678.9,709.3 L680.4,709.9 L682.1,709 L683.7,711.1 L685.4,711.5 L687,709.9 L688.7,708.8 L690.3,708.5 L691.6,708.2 L693,708.8 L694.3,709.5 L695.6,711.4 L696.9,711.2 L698.2,713 L699.5,713.5 L700.9,714.2 L702.2,715.4 L703.7,713.6 L705.2,711.1 L706.7,710.4 L708.1,709.1 L709.1,710.7 L710.1,713.8 L711.8,713.8 L713.4,715.1 L715.1,715.8 L716.4,717.6 L717.7,716.5 L719,718.4 L720.3,721.3 L721.7,721.1 L723,723.7 L724.5,724.7 L726,726.2 L727.4,724.8 L728.9,726.9 L730.6,726.6 L732.2,729.2 L733.9,728.3 L735.5,728.9 L737.2,728 L738.8,732.6 L740.4,730.9 L742.1,729.7 L743.7,732.2 L745,735 L746.4,733.4 L747.7,736.2 L749,735.2 L750.4,734.9 L751.7,733.2 L753,734.2 L754.3,736.6 L755.6,737.2 L757.3,737.1 L758.9,736.8 L760.6,738.2 L762.2,738.2 L763.9,737.7 L765.5,737.2 L767.2,738.9 L768.8,739.8 L770.5,741.1 L771.8,742 L773.1,741.4 L774.4,743.1 L776.1,741 L777.8,739.7 L779,742.1 L780.1,742 L781.3,744.7 L783,744.3 L784.6,745 L786.3,745.5 L787.9,745.9 L789.6,746.3 L791.2,747.1 L792.9,748.2 L794.5,748.1 L796.2,750.6 L797.5,749.6 L798.8,750.1 L800.1,749.1 L801.8,749.8 L803.4,750.4 L805.1,752 L806.6,752 L808,751.4 L809.5,753.6 L811,753 L812.3,753.9 L813.7,756.9 L815,757 L816.3,755.9 L817.6,755.5 L818.9,755 L820.6,754.7 L822.2,755.1 L823.9,756 L825.5,755.6 L827.2,756.2 L828.8,756.6 L830.5,756.6 L832.1,755.6 L833.8,756 L835.1,757.3 L836.4,758.1 L837.7,759.9 L839.4,760.1 L841,759.8 L842.7,759.9 L844.3,762 L846,761.9 L847.6,762.5 L849.1,760.4 L850.6,759.9 L851.9,762.4 L853.3,761.6 L854.6,763.9 L856.2,764.5 L857.9,763.8 L859.5,763.9 L861,765.6 L862.5,767.8 L864,765.8 L865.4,764.9 L867.1,766.3 L868.7,769.5 L870.4,769.8 L871.9,767.9 L873.3,769.8 L874.8,769.3 L876.3,767.8 L878,768.5 L879.6,769.7 L881.3,769.8 L882.9,769.7 L884.6,770.9 L886.2,771.8 L887.5,770.8 L888.9,771.3 L890.2,770.8 L891.5,770.9 L892.8,770.4 L894.1,771.2 L895.8,771.1 L897.4,773.8 L899.1,773.2 L900.7,773 L902.4,772.5 L904,772.8 L905.3,773.6 L906.7,773.3 L908,774.8 L909.3,773.7 L910.7,773.9 L912,773.2 L913.3,773.3 L914.6,772.5 L915.9,772.8 L917.6,773.1 L919.2,774.4 L920.9,775.2 L922.3,774.8 L923.8,772.4 L925.1,773.2 L926.5,775.2 L927.8,775.2 L929.3,773.4 L930.8,772.8 L932.1,772.8 L933.4,774 L934.7,774.4 L936,775.6 L937.4,774.8 L938.7,775.2 L940.2,774.1 L941.6,773.2 L943.3,772.9 L944.9,775.8 L946.6,774.8 L948.2,774.5 L949.9,775.1 L951.5,775.8 L952.8,774.1 L954.2,774.9 L955.5,773.2 L956.8,774.3 L958.1,774.8 L959.4,774.8 L961.1,773.9 L962.7,775.3 L964.4,773.8 L965.7,771.4 L967.1,770.2 L968.4,768.4 L969.7,766.4 L971,763.2 L972.3,761.9 L973.6,759.4 L975,757.4 L976.3,756.6 L978,756.7 L979.6,755.4 L980.8,756 L982,758.9 L983.2,759.9 L984.5,761.9 L985.9,763.4 L987.2,766.9 L988.5,768.8 L989.8,769.4 L991.1,771.8 L992.4,773 L993.8,773.6 L995.1,773.8 L996.4,772.8 L997.7,773.4 L999,771.8 L1000,771.2 L1001.1,772 L1002.8,771.1 L1004.4,770.9 L1006.1,771.4 L1007.4,771.7 L1008.7,770.6 L1010,769.4 L1011.5,770.5 L1013,772.4 L1014.7,771.9 L1016.3,770.3 L1018,768.8 L1019.6,769.3 L1021.3,772.2 L1022.9,772.4 L1024.5,771.4 L1026.2,770.9 L1027.8,770.8 L1029.5,771.1 L1031.1,771.4 L1032.8,773.4 L1034.3,772.6 L1035.8,772.3 L1037.2,770.9 L1038.7,771.4 L1040.4,772.3 L1042,771.7 L1043.7,772.8 L1045.3,773.9 L1047,772.9 L1048.6,774.4 L1049.9,773.4 L1051.3,772.5 L1052.6,771.4 L1054.2,772 L1055.9,771.8 L1057.5,772.4 L1058.8,773.5 L1060.2,772.6 L1061.5,774 L1063.1,774.8 L1064.8,773.4 L1066.4,772 L1067.9,771.8 L1069.4,771 L1070.9,772.7 L1072.4,772.4 L1073.9,772.2 L1075.3,772.6 L1076.8,770.4 L1078.3,771.4 L1080,771.9 L1081.6,770 L1083.3,770.8 L1084.9,770.6 L1086.6,772 L1088.2,772.8 L1089.9,772.8 L1091.5,770.2 L1093.2,768.4 L1094.5,769.6 L1095.8,768.9 L1097.1,770.4 L1098.6,772.7 L1100.1,772.8 L1101.7,772 L1103.4,771.2 L1105,769.4 L1106.7,769.8 L1108.3,772.2 L1110,773.4 L1111.5,770.5 L1112.9,768.4 L1114.6,769 L1116.2,770.5 L1117.9,771.4 L1119.5,770.8 L1121.2,771 L1122.8,770.8 L1124.5,771.7 L1126.1,772 L1127.8,772 L1129.4,770.6 L1131.1,771.2 L1132.7,771.4 L1134.4,771.8 L1136,772.9 L1137.7,772.4 L1139.2,773 L1140.7,774.8 L1142.1,772.6 L1143.6,774.4 L1144.9,773.8 L1146.3,773.1 L1147.6,772 L1149,771.2 L1150.5,770.8 L1152,772.1 L1153.5,773.4 L1154.5,774.2 L1155.5,773.4 L1155.5,820.8 Z"/></clipPath>
</defs>
<rect width="1518" height="1137" fill="#fff"/>
<use href="#bg"/>
<g class="g">
<path d="M457.0,35.5 H1438.6"/>
<path d="M142.7,434.1 L457.0,35.5"/>
<path d="M457.0,124.5 H1438.6"/>
<path d="M142.7,523.1 L457.0,124.5"/>
<path d="M457.0,213.5 H1438.6"/>
<path d="M142.7,612.1 L457.0,213.5"/>
<path d="M457.0,302.5 H1438.6"/>
<path d="M142.7,701.1 L457.0,302.5"/>
<path d="M457.0,391.3 H1438.6"/>
<path d="M142.7,789.9000000000001 L457.0,391.3"/>
<path d="M784.7,18.5 V463.0"/>
<path d="M470.4,860.8 L784.7,463.0"/>
<path d="M1111.6,18.5 V463.0"/>
<path d="M797.3,860.8 L1111.6,463.0"/>
<path d="M425.8,58 V502.6"/>
<path d="M363.1,137.5 V582"/>
<path d="M300.5,216.9 V661.5"/>
<path d="M237.4,296.9 V741"/>
<path d="M174.5,376.6 V820.8"/>
</g>
<path d="M142.7,860.8 L457.0,463.0" stroke="#222" stroke-width="1" fill="none"/>
<path d="M457.0,18.5 V463.0" stroke="#7a9c52" stroke-width="1.1" fill="none"/>
<path d="M143.0,416.9 V860.8" stroke="#9aa3a8" stroke-width="0.9" fill="none"/>
<path d="M1438.6,18.5 V463.0" stroke="#6a5a4a" stroke-width="1" fill="none"/>
<path d="M457.0,462.8 H1438.6" stroke="#5a4038" stroke-width="1" opacity="0.45" fill="none"/>
<g clip-path="url(#a-teal)"><use href="#bg"/></g>
<path class="c" d="M425.8,479.2 427.5,478.6 429.1,478.3 430.8,478.2 432.4,479.8 433.7,480.3 435,478.2 436.3,477.6 437.6,478.6 439,478.4 440.3,479.6 442,476.9 443.6,475.9 445.2,478.2 446.9,478.3 448.4,477.8 450,475.5 451.5,475.6 452.8,476.1 454.2,476 455.5,476.3 456.8,475.7 458.1,474.8 459.4,473.6 460.9,473.5 462.5,472.9 464,471.7 465.3,471.3 466.7,472.7 468,473 469.3,471.9 470.7,471 472,470.6 473.5,470 475.1,472.1 476.6,471.7 478.2,471.8 479.9,471 481.5,472.2 483.1,471 484.8,470.5 486.4,469.9 488.1,472.8 489.7,471.4 491.4,472.3 493,472.2 494.6,469.8 496.3,471.5 497.9,471.8 499.6,470.9 501.2,468.8 502.9,468.6 504.5,466.7 506.2,468.3 507.8,468.1 509.5,467.1 511.1,465.8 512.8,464.7 514.4,465.5 516.1,461.7 517.8,461.3 519.4,463.2 521.1,460.5 522.7,459.7 524.3,457.6 525.9,457.6 527.4,458.8 529,457 530.6,457.2 532.2,458.5 533.8,458.6 535.3,455.1 536.9,457.4 538.5,457.2 540.1,455.1 541.7,454.8 543.2,455.8 544.8,452.7 546.4,451.8 548,450.3 549.6,450.6 551.2,448.5 552.8,449.7 554.4,448.8 556,448.9 557.6,446.2 559.1,448.6 560.7,446.6 562.3,445.9 563.9,445.8 565.5,445.7 567,445 568.6,443.8 570.2,442.9 571.8,442.9 573.4,443.4 574.9,440.6 576.5,441.6 578.1,440.9 579.7,438.6 581.3,439 582.8,439.1 584.4,440.2 586,438.4 587.6,436.8 589.2,439.8 590.7,439.3 592.3,438 593.9,438 595.5,435.9 597.1,437.9 598.6,433.9 600.2,438.3 601.8,435 603.3,432.5 604.8,432.8 606.3,433.1 607.8,432 609.4,431.6 611.1,430 612.7,432.2 614.3,429.2 615.9,430 617.6,429.8 619.2,425.3 620.8,428 622.4,427.1 624.1,424.6 625.7,424.1 627.3,422.7 628.9,422.8 630.6,425.2 632.2,422.4 633.8,422.6 635.5,419.4 637.1,420 638.7,418.7 640.3,417.1 642,417.4 643.6,415.5 645.2,416.4 646.8,415.9 648.5,411.1 650.1,413.3 651.7,410.7 653.3,409.9 655,411.7 656.6,409.3 658.2,409.6 659.9,405.7 661.5,406.9 663.1,403.2 664.7,402.9 666.4,399.3 668,402.5 669.6,400.3 671.2,399.1 672.9,393.9 674.5,397.6 676.1,392.3 677.7,393.3 679.4,389.5 681,389.8 682.6,388.9 684.2,386.7 685.9,384.2 687.5,383.5 689.1,381.6 690.7,376.2 692.3,377.1 694,374.9 695.6,374.2 697.2,369.3 698.8,370.8 700.4,367.5 702.1,363.5 703.7,366.6 705.3,361.8 706.9,359 708.6,359.5 710.2,355.5 711.8,352.8 713.4,349.2 715.1,344.9 716.7,343.4 718.3,342.9 719.9,340.6 721.6,336.9 723.2,332.3 724.8,335.5 726.4,330 728.1,327.3 729.7,324.7 731.3,324.3 733,319 734.6,315.9 736.2,313.2 737.8,307.3 739.5,309.1 741.1,302.1 742.7,301.5 744.3,294.8 746,296.5 747.6,288 749.2,289.1 750.8,284.9 752.5,279.3 754.1,279.1 755.7,277.7 757.4,273.7 759,265.3 760.6,264.1 762.2,265 763.9,259.7 765.5,253.7 767.1,251.8 768.7,249.5 770.4,242.1 772,242.7 773.6,235.4 775.2,236.8 776.9,232.6 778.5,227.1 780.1,220.1 781.8,219.7 783.4,218.4 785,210.8 786.6,209.2 788.3,205.9 789.9,201.3 791.5,198.4 793.1,195 794.8,187.5 796.4,184.8 798,181.9 799.6,177 801.3,175.5 802.9,171.6 804.5,163.4 806.2,149.8 807.8,141.9 809.2,141.8 810.6,133.9 812,135.6 813.4,128 814.8,127.1 816.4,131.4 818.1,131.2 819.7,135 821.1,131.7 822.5,132.2 823.8,128.4 825.2,126.8 826.6,126.1 828.3,119.1 829.9,113.6 831.6,106.3 833.1,114 834.6,120.1 836.1,117 837.5,110.6 839,108.1 840.5,103.3 842,101.8 843.5,94.6 845,93.3 846.4,94.2 847.9,86 849.4,86.5 850.9,93.6 852.4,96.4 853.9,89.5 855.3,86.4 856.8,81.2 858.3,76.6 859.8,75.5 861.2,71.3 862.7,73.1 864.2,69.7 865.6,69.1 867,63.9 868.4,64.7 869.8,61 871.2,60.8 872.8,61.3 874.4,66.8 875.9,67.9 877.5,68.9 879.1,70.7 880.7,67.8 882.4,65.1 884,61.8 885.4,65 886.8,65.1 888.2,70.9 889.6,69.2 891,72.7 892.5,77.5 893.9,81.6 895.4,77.2 896.9,74.5 898.4,70.4 899.9,67.7 901.3,76.7 902.8,85.5 904.4,83.9 906,82.7 907.6,81.1 909.2,80.4 910.8,79.6 912.3,82.6 913.8,83.3 915.2,85.8 916.7,86.5 918.2,92.6 919.7,96.6 921.1,105.2 922.6,110.3 924.3,108 925.9,104.3 927.6,103.3 929,106.5 930.4,106.3 931.7,105 933.1,108.1 934.5,109.3 936,114 937.5,120.8 938.9,124.3 940.4,132 942.1,130.2 943.7,129.6 945.4,127.1 947,135.4 948.7,141.9 950.3,150.8 951.6,148.7 953,141.8 954.3,139.9 955.8,147.3 957.3,155.8 958.9,159.3 960.5,160.5 962,159.8 963.6,166.6 965.2,166.6 966.8,173.4 968.5,180.3 970.1,186.4 971.6,189.1 973.1,191.5 974.6,198.2 976.1,200.3 977.4,199.7 978.7,197.8 980,197.3 981.7,203.2 983.3,209.7 985,215.1 986.6,220.7 988.3,227.3 989.9,232.9 991.5,239.1 993.2,242.3 994.8,240.3 996.5,250.7 998.1,252.6 999.8,254.8 1001.1,254.7 1002.4,255.5 1003.7,255.8 1005,258.8 1006.4,262.4 1007.7,263.7 1009,263.9 1010.4,264.4 1011.7,265.7 1013.3,266.6 1015,268.7 1016.6,268.7 1018.3,270 1019.9,276.1 1021.6,277.6 1023.2,279.9 1024.9,284.5 1026.5,287.5 1027.6,291.4 1028.8,293.2 1029.9,297.4 1031.2,296.5 1032.4,296.4 1033.4,299.7 1034.4,302.3 1036.1,305.8 1037.7,307.1 1039.4,309.3 1040.7,313.7 1042,318.1 1043.3,321.1 1044.6,321.7 1046,322.4 1047.3,322.1 1048.8,326.8 1050.3,331 1051.2,328.6 1052.2,328.1 1053.5,329.4 1054.9,330.4 1056.2,333 1057.7,331.6 1059.2,330 1060.7,333.4 1062.1,338 1063.4,337.9 1064.8,338.1 1066.1,338.9 1067.7,340 1069.4,342.9 1071,343.9 1072.3,347.7 1073.7,349.5 1075,351.8 1076,350.3 1077,348.8 1078.5,351.7 1079.9,355.8 1080.9,355.2 1081.9,353.8 1083.2,356.6 1084.6,358.4 1085.9,359.7 1087.3,361.2 1088.8,363.7 1090.3,363 1091.8,364.8 1093.3,363.3 1094.8,363.7 1096.1,369.1 1097.4,372.7 1098.7,376.5 1100.4,376.3 1102,379.2 1103.7,380.5 1105.3,381.9 1107,384.6 1108.6,387.4 1110.3,390.4 1111.9,397.1 1113.6,399.3 1114.6,397.7 1115.6,398.3 1117.2,402.6 1118.9,403.6 1120.5,407.2 1122,408.4 1123.5,412.5 1124.9,414.6 1126.4,416.1 1128.1,418.1 1129.7,420.2 1131.4,424 1132.9,423.7 1134.3,426.7 1135.8,423.9 1137.3,426 1139,427.2 1140.6,430 1142.3,430 1143.8,432.6 1145.2,434.9 1146.5,433.8 1147.9,433.9 1149.2,433.9 1150.7,436.6 1152.2,437.9 1153.7,438.3 1155.2,437.6 1156.6,436.6 1158.1,436.9 1159.4,439.7 1160.8,440.6 1162.1,441.8 1163.7,442.3 1165.3,441.8 1166.8,441.3 1168.4,442.4 1170,441.8 1171.5,443.7 1173,442.9 1174.4,444.3 1175.9,444.8 1177.4,442.9 1178.9,441.8 1179.9,442.8 1180.9,445.8 1182.5,446.4 1184.2,442.7 1185.8,442.8 1187.1,443.3 1188.5,445.2 1189.8,445.8 1191.4,445.3 1193.1,448.1 1194.7,447.8 1196.1,445.6 1197.5,447.4 1198.8,446.5 1200.2,442.7 1201.6,443.8 1203.1,445.2 1204.6,446.8 1206.3,446.3 1207.9,447.9 1209.6,447.8 1211.2,447.3 1212.9,446.3 1214.5,444.8 1216.1,440.8 1217.8,441.8 1219.4,437.9 1220.9,436.7 1222.4,433.8 1223.9,428.6 1225.4,428 1226.9,427.8 1228.4,428.3 1229.9,428.1 1231.5,429.9 1233.2,434.4 1234.8,438.9 1236.5,440.2 1238.1,442.7 1239.8,442.9 1241.3,442.7 1242.8,443.8 1244.2,445.2 1245.7,445.9 1247,446 1248.4,447.6 1249.7,448.4 1251,445.9 1252.3,445.8 1253.6,443.9 1255.1,445.1 1256.6,445.9 1258.1,445 1259.6,443.3 1260.9,443.7 1262.2,446.9 1263.5,446.9 1265,443.7 1266.5,442.9 1268.1,443.5 1269.8,443.4 1271.4,444.5 1272.9,445.8 1274.4,445.6 1275.9,445.8 1277.4,444.9 1278.9,444 1280.3,445.8 1281.8,446.6 1283.3,445.9 1284.8,445.3 1286.3,449.1 1287.8,447.1 1289.3,448.8 1290.6,449.4 1291.9,448.5 1293.2,447.8 1294.7,447.9 1296.2,448.9 1297.7,446.9 1299.2,448.8 1300.5,448.7 1301.8,448.8 1303.1,449.8 1304.8,449.7 1306.4,449.2 1308.1,447.8 1309.7,447 1311.4,450.7 1313,449.8 1314.3,448.7 1315.7,450.4 1317,449.8 1318.6,449.8 1320.3,452.1 1321.9,452.4 1323.6,452 1325.2,451.1 1326.9,449.8 1328.2,450.7 1329.5,451.3 1330.8,452.4 1332.5,453.9 1334.1,452.2 1335.8,453.8 1337.1,452.8 1338.4,451.1 1339.7,450.8 1341.2,452.1 1342.7,453.8 1344,451.4 1345.3,450.6 1346.6,449.8 1347.9,449.4 1349.3,450.1 1350.6,450.4 1352.2,450.7 1353.9,448.7 1355.5,447.8 1357.2,449 1358.8,449.4 1360.5,448.8 1362,451 1363.5,451.8 1365.1,450.2 1366.8,449.6 1368.4,448.8 1369.7,450.6 1371.1,451.3 1372.4,451.8 1373.8,448.9 1375.3,447.8 1377,448.8 1378.6,448.9 1380.3,450.4 1381.9,450.1 1383.6,452.1 1385.2,452.8 1386.7,451.7 1388.2,451.2 1389.7,452.7 1391.2,452.4 1392.6,451.8 1394.1,451.8 1395.8,450.7 1397.4,452.3 1399.1,451.2 1400.5,452.1 1402,454.4 1403.5,454.7 1405.1,454.4 1406.6,454.4" stroke="#1B9E77" stroke-width="1.8"/>
<path d="M425.8,479.2 V502.6 M1406.6,454.4 V502.6" stroke="#1B9E77" stroke-width="1" fill="none"/>
<g clip-path="url(#a-orange)"><use href="#bg"/></g>
<path class="c" d="M363.1,557.2 364.4,555.6 365.8,556.6 367.1,554.5 368.8,552.5 370.4,553.2 372,554.8 373.7,554.8 375.4,554.7 377,555 377.9,554 378.9,553.2 380.5,555.3 382.2,556.1 383.2,553.8 384.2,552.4 385.5,552.8 386.9,553.1 388.2,552.8 389.5,551.8 390.9,553.1 392.2,549.5 393.5,550.8 394.8,550 396.1,549.2 397.4,549.2 398.7,549.8 400.1,550.5 401.4,549.8 403,548.1 404.7,547.5 406,546.6 407.3,548.7 408.6,549.7 409.9,548.8 411.5,547.4 413.2,546.6 414.5,547.7 415.9,546.9 417.2,547.1 418.5,545.9 419.9,544.8 421.2,544.2 422.5,544.4 423.8,542.3 425.1,542.6 426.4,544.2 427.8,542.3 429.1,544 430.6,543.6 432.2,542.1 433.7,540.9 435.2,542.1 436.8,541.5 438.3,543.2 439.6,542 441,541.1 442.3,540.8 443.6,541.3 444.9,540.4 446.2,541.1 447.6,538.8 448.9,538.3 450.2,538.5 451.5,536 452.8,535 454.1,533.9 455.5,532.8 456.8,533 458.3,533.1 459.9,531.8 461.4,529.7 462.9,528.9 464.5,528 466,527.7 467.3,526.3 468.7,527.8 470,526.4 471.5,525.9 473.1,526.8 474.6,527.1 476,526 477.4,523.6 478.9,526.4 480.3,522.4 481.7,522.2 483.1,521.1 484.8,520.9 486.4,517.9 488.1,517.7 489.7,517.8 491.4,514.5 493,515.1 494.6,515.1 496.3,513.6 497.9,514.9 499.6,513.6 501.2,514.7 502.9,513.2 504.5,513.5 506.2,509.9 507.8,510.7 509.5,509.4 511.1,511 512.8,508.2 514.4,504.7 516.1,505.7 517.8,504.5 519.4,508.1 521.1,504.4 522.7,504.2 524.4,504.2 526,503 527.7,503.8 529.3,501.5 531,505.3 532.6,502.7 534.2,502 535.8,500.6 537.3,501.1 538.9,500.3 540.5,499.3 542.1,496.1 543.7,496.8 545.2,493.7 546.8,495.4 548.4,491.4 550,487.6 551.6,488.1 553.1,488.8 554.7,482.3 556.3,483.5 557.9,480.5 559.5,483.1 561,480.7 562.6,476.6 564.2,476.5 565.8,477.4 567.4,472.9 569,470.9 570.6,471.4 572.2,470.6 573.8,466.9 575.4,470.2 576.9,463.3 578.5,466.4 580.1,463.7 581.6,461.4 583,459.6 584.5,456 586,454.8 587.5,454 589,450.3 590.5,450 592,448.8 593.6,446.8 595.2,447.9 596.7,448.5 598.3,444.8 599.9,444.9 601.4,441.3 602.8,441.2 604.3,434.9 605.8,435 607.3,434.1 608.8,431.7 610.2,430 611.7,427.1 613,424.2 614.4,419.3 615.7,416.2 617.2,414.8 618.7,412.6 620.1,409.4 621.6,407.3 623,406.3 624.5,406.8 625.9,406.2 627.5,406.9 629.1,403.4 630.7,400 632.3,399.4 633.9,399.3 635.4,399 636.8,394.8 638.3,389.5 639.8,387.4 641.3,385.3 642.8,382.8 644.2,381.6 645.7,379.5 647.2,379.2 648.7,376.6 650.2,375.5 651.7,374.6 653.2,369.6 654.7,369 656.1,362.6 657.6,359.7 659.2,357.1 660.9,351.3 662.5,349.8 664.2,349.9 665.8,349.1 667.5,347.8 669.1,345.4 670.8,342.3 672.4,337 674.1,332 675.7,326.9 677.4,322.1 678.9,323.2 680.3,321.6 681.8,323.6 683.3,324.1 685,318.2 686.6,312.5 688.3,308.3 689.9,307.8 691.6,309 693.2,307.3 694.7,302.3 696.2,299.8 697.7,298.8 699.2,293.4 700.5,292.3 701.8,295.1 703.1,294.4 704.8,291.6 706.4,287.1 708.1,282.5 709.4,275.8 710.7,272.2 712,265.7 713.7,262.5 715.3,263.4 717,260.8 718.5,258.4 720,252 721.4,253.7 722.9,247.9 724.4,246.6 725.8,245.8 727.3,243.5 728.8,241 729.7,235.9 731.4,236.2 733,230.2 734.7,232.4 736.3,228.9 738,230 739.6,226 741,218.9 742.5,212.2 744.2,208.2 745.8,206.8 747.5,202.3 748.8,204.3 750.2,204 751.5,206.2 753,200.5 754.5,198.7 755.9,191.9 757.4,186.4 758.9,183.7 760.4,181.5 761.8,185.9 763.3,187.4 764.8,186.1 766.3,186.5 767.8,185.1 769.3,185.4 770.6,181 771.9,178.4 773.2,172.6 774.9,173 776.5,175.1 778.2,176.5 779.7,172.2 781.1,167.6 782.6,172.6 784.1,177.5 785.3,171.7 786.5,164.7 788,169.6 789.5,175.4 791,178.5 792.5,172.6 794,169.9 795.5,162.4 797,158.7 798.6,163.1 800.3,162.2 801.9,166.6 803.3,174.6 804.7,168.5 806,162.2 807.4,153.7 808.8,149.4 810.1,150.8 811.5,151.3 812.8,151.8 814.4,160.2 816.1,165.4 817.7,172.6 819.4,172.4 821,170.8 822.7,169.6 824.1,171.9 825.5,177.9 826.8,180 828.2,182.9 829.6,184.5 831.1,183.3 832.6,181.8 834.1,179.2 835.6,175.6 836.9,177.2 838.2,178.4 839.5,180.5 841,188.5 842.5,196.3 843.8,200.1 845.1,203.3 846.4,205.2 847.9,204.9 849.4,202.3 850.9,201.9 852.4,198.3 853.7,199.6 855,204.1 856.3,208.2 857.8,208.8 859.3,209.2 860.8,218.1 862.3,225 863.9,219.7 865.6,216.9 867.2,214.1 868.7,222.7 870.2,230 871.8,233.8 873.5,236.7 875.1,241.8 876.7,243.5 878.3,248.6 880,250.2 881.6,254.6 883.2,259.8 884.8,260.6 886.5,264.2 888.1,264.7 889.4,268.4 890.7,271.7 891.7,269.8 892.7,265.7 894.1,267.9 895.5,272.3 896.9,275.4 898.3,280 899.6,285.3 900.9,288.5 902.2,291.9 903.2,291.5 904.2,292.5 905.9,297.7 907.5,301.1 909.1,307.6 910.8,312.3 912.1,313.7 913.4,314.9 914.7,315.6 916,319.9 917.4,323.5 918.7,323.8 920,324.9 921.4,329.8 922.7,335.4 923.7,339.2 924.6,341.3 926.2,340.8 927.9,342.7 929.2,347 930.6,350.6 932.2,353.1 933.9,357.8 935.2,357.2 936.5,364.4 937.8,365.1 939.1,365 940.5,365 941.8,364.4 943.1,365.9 944.5,367.2 945.8,369.7 947.1,371.9 948.4,371.2 949.7,373 951,375.7 952.3,378.3 953.7,378.3 954.7,381.8 955.6,385.5 957.2,386 958.9,384.9 959.9,385.6 960.9,389.5 961.9,392 962.9,396.1 963.9,396.5 964.9,396.8 966.2,400.3 967.5,405.3 968.9,408 970.2,408 971.5,406.4 972.8,404.7 974.1,407 975.4,410.6 977,411.4 978.7,411.9 980.4,414.3 982,416.5 983.3,417.4 984.7,416.6 986,417.9 987.6,421.7 989.3,423.8 990.6,427.2 991.9,429.1 992.2,429.7 993.5,429.9 994.9,431.7 996.2,431.7 997.8,432.4 999.5,438.5 1001.1,438.6 1002.4,439.2 1003.8,440.9 1005.1,443.5 1006.7,446.3 1008.4,446.7 1010,447.5 1011.3,450.6 1012.7,451.1 1014,454.4 1015.3,455.3 1016.7,457.4 1018,457.4 1019.6,457.6 1021.3,457.9 1022.9,459.4 1024.2,460.5 1025.6,460.2 1026.9,460.4 1027.8,465.3 1028.8,468.3 1030.5,469.7 1032.1,474.1 1033.8,475.2 1035.3,477.1 1036.8,481.1 1038.2,479.6 1039.7,479.2 1041,481.5 1042.4,484.2 1043.7,485.1 1045.2,487.9 1046.6,491 1048.1,490.4 1049.6,490 1050.9,491.8 1052.3,493.4 1053.6,495 1055,498 1056.5,502.9 1057.8,503.3 1059.2,502.7 1060.5,503.9 1061.8,504.7 1063.2,505.4 1064.5,506.9 1066,510.3 1067.4,511.8 1069.1,510.9 1070.7,511.8 1072.4,512.4 1073.7,513.5 1075,513.8 1076.3,515.8 1077.6,515.4 1079,515.8 1080.3,516.8 1081.9,519.1 1083.6,519.8 1085.2,520.7 1086.7,519.4 1088.2,519.7 1089.5,521.4 1090.9,521.2 1092.2,523.7 1093.7,523 1095.2,524.2 1096.6,522.4 1098.1,521.7 1099.4,522.9 1100.8,524 1102.1,524.7 1103.4,525 1104.7,527.2 1106,526.6 1107.3,525.9 1108.7,525.1 1110,524.7 1111.6,526.1 1113.2,526.1 1114.7,523.1 1116.3,525.5 1117.9,524.7 1119.2,524.5 1120.5,527.1 1121.8,526.6 1123.1,526.5 1124.5,528.1 1125.8,529.6 1127.1,529.9 1128.5,528.1 1129.8,526.6 1131.1,525.9 1132.4,526.2 1133.7,526.6 1135.4,526 1137,527.6 1138.7,528.6 1140,527.4 1141.3,527.9 1142.6,525.7 1144.3,526.1 1145.9,527.4 1147.6,528.2 1149.2,527.9 1150.9,525.9 1152.5,524.7 1153.8,522.4 1155.2,520.4 1156.5,519.7 1157.8,519.5 1159.1,516.1 1160.4,515.8 1161.7,515.9 1163.1,510.9 1164.4,511.2 1165.7,512.2 1167.1,515.8 1168.4,516.8 1169.7,517.8 1171,519.2 1172.3,519.7 1174,522.2 1175.6,525.1 1177.3,526.6 1178.9,525.4 1180.6,526.1 1182.2,525.1 1183.9,527.6 1185.5,526.3 1187.2,528.6 1188.8,527.9 1190.5,528.3 1192.1,526.3 1193.7,526.6 1195.4,525.8 1197,525.7 1198.3,526.6 1199.7,526.3 1201,527.6 1202.6,525.4 1204.2,527.5 1205.7,527.1 1207.3,524.4 1208.9,525.7 1210.4,525.4 1211.9,527 1213.4,526 1214.9,526.6 1216.3,528.2 1217.8,528.2 1218.9,527.8 1220,526 1221.5,528.2 1223,526 1224.4,528 1225.9,529 1227.4,529.7 1228.9,527.8 1230.4,529.9 1231.9,530 1233.4,529.3 1234.8,527.9 1236.3,528.8 1237.8,526.4 1239.1,526.1 1240.5,529.8 1241.8,530.4 1243.1,530.5 1244.4,530.6 1245.7,530.9 1247,531.3 1248.4,531.8 1249.7,531.9 1251.3,529.7 1253,530.2 1254.6,529 1256.3,530.7 1257.9,529.1 1259.6,530.9 1261.2,529.7 1262.9,531.5 1264.5,529.6 1266.2,530.1 1267.8,530.1 1269.5,531.5 1271.1,531.4 1272.8,531.3 1274.4,530 1276.1,529.1 1277.7,530.7 1279.4,532.3 1280.7,531.3 1282,529.7 1283.3,530 1284.8,531.3 1286.3,532.3 1287.9,532.5 1289.6,530.8 1291.2,529.6 1292.9,528.8 1294.5,530.9 1296.2,530 1297.5,529 1298.8,527.7 1300.1,528 1301.8,529 1303.4,529.9 1305.1,530 1306.6,530 1308,528.3 1309.5,528.9 1311,529.6 1312.7,530.6 1314.3,529.1 1316,530.9 1317.3,531.8 1318.6,534.7 1319.9,534.9 1321.6,536.1 1323.2,535 1324.9,535.9 1326.2,534.3 1327.5,533.2 1328.8,532.9 1330.5,533.4 1332.1,534.5 1333.8,535.9 1335.1,536.7 1336.4,536.8 1337.7,536.9 1339.4,537.2 1341.1,536.3 1342.6,537.2 1344.1,538.9 1344.4,538.9" stroke="#D95F02" stroke-width="1.8"/>
<path d="M363.1,557.2 V582 M1344.4,538.9 V582" stroke="#D95F02" stroke-width="1" fill="none"/>
<g clip-path="url(#a-purple)"><use href="#bg"/></g>
<path class="c" d="M300.5,634.6 301.8,635.7 303.2,636.2 304.5,636 305.8,635.4 307.1,635.1 308.4,634.6 310.1,634.3 311.7,633.4 313.4,632.7 315,632.1 316.7,632.8 318.3,631.7 320,631.5 321.6,631.5 323.3,632.7 324.8,633.7 326.2,634.6 327.5,634.1 328.9,632.7 330.2,631.7 331.8,631.5 333.5,630.9 335.1,629.7 336.8,629.6 338.4,630.6 340.1,631.3 341.7,630.1 343.4,630.5 345,630.1 346.7,630.3 348.3,630.8 350,630.7 351.5,631.4 352.9,628.8 354.4,629.2 355.9,629.3 357.6,630.2 359.2,629.1 360.9,629.7 362.2,628.9 363.5,627.4 364.8,627.7 366.1,629.5 367.5,628.8 368.8,630.1 370.4,630.2 372.1,627.5 373.7,627.7 375.2,629.6 376.7,627.4 378.2,629.6 379.7,628.7 381.3,626.5 383,628.7 384.6,626.7 386.3,625 387.9,626.2 389.6,625.7 391.2,624 392.9,624.5 394.5,622.8 396.1,620.9 397.8,619.7 399.4,619.8 400.9,617.8 402.4,617.3 403.9,618.7 405.4,616.8 407,617.7 408.7,618.8 410.3,618.2 412,616.6 413.6,617.2 415.3,615.8 416.8,616 418.2,614.2 419.7,615.3 421.2,614.8 422.9,615.6 424.5,615.2 426.2,614.2 427.7,612.7 429.1,613.3 430.6,613.9 432.1,612.3 433.7,612.9 435.4,611.7 437,611.5 438.7,610.6 440.3,608.4 442,608.9 443.5,610.4 444.9,606.4 446.4,609 447.9,607.9 449.4,608.4 450.9,606.1 452.4,607.7 453.9,607.5 455.5,605.9 457.2,609.1 458.8,608 460.4,609.9 462.1,608.8 463.7,608.8 465.2,608.7 466.7,610.4 468,609.9 469.4,609.2 470.7,607.8 472,606.8 473.3,607.2 474.6,606.9 475.9,606.9 477.3,607 478.6,605.9 479.9,604.5 481.2,603.6 482.5,602.9 483.8,603 485.2,602.4 486.5,602.5 488.2,602.4 489.8,600.8 491.5,603.5 493.2,599.4 494.8,602.7 496.5,600.6 498.2,598.7 499.9,597.3 501.5,599.2 503.2,599.6 504.9,597.7 506.5,597.7 508.2,596.3 509.9,595.1 511.5,596.4 513.2,595.4 514.9,593.7 516.5,594.2 518.2,595.2 519.9,590.9 521.5,590.8 523.2,590.3 524.9,593.5 526.5,591 528.2,591.6 529.9,588.3 531.6,587.9 533.2,585.9 534.9,588 536.6,586.4 538.2,584.9 539.9,585.3 541.6,586.3 543.2,580.6 544.9,585.1 546.6,580.4 548.2,582.6 549.9,577.1 551.6,579.3 553.2,575.4 554.9,577 556.6,574.5 558.3,576.5 559.9,571.4 561.6,572.7 563.3,573.3 564.9,571.2 566.6,569.9 568.3,568.7 569.9,567.8 571.6,567.7 573.3,563.9 574.9,562.2 576.6,563.6 578.3,558.2 580,557.1 581.6,559.6 583.3,555.6 585,552.8 586.6,555.9 588.3,552.4 590,550.2 591.6,551.4 593.3,547.5 595,543.6 596.6,545.7 598.3,540.6 600,540.2 601.6,540.7 603.3,533.5 605,534 606.6,530.7 608.3,530.4 610,528.8 611.7,528.1 613.3,525.9 615,524.8 616.7,522.8 618.3,517.7 620,517.4 621.7,513.9 623.3,515 625,509.8 626.7,509.9 628.3,502.6 630,502.5 631.7,502.7 633.4,496.2 635,498.9 636.7,495.9 638.4,489.8 640,488.2 641.7,485.5 643.4,484.1 645,482 646.7,480.3 648.4,480.5 650,475.6 651.7,471.7 653.4,468.6 655,467.7 656.7,462.8 658.4,463.5 660,460.1 661.7,453.9 663.4,457.2 665.1,450.4 666.7,449.3 668.4,446.9 670.1,444.3 671.7,437.5 673.4,437.8 675.1,435.3 676.7,430.7 678.4,428.7 680.1,424.2 681.7,423.9 683.4,423.1 685.1,414.7 686.8,418.3 688.4,413 690.1,406.4 691.8,406.5 693.4,403.6 695.1,401.5 696.8,397.6 698.4,397.7 700.1,392.4 701.1,388.3 702.1,386.4 703.6,386.2 705.1,385.4 706.1,388.6 707.1,392.4 708.3,387.7 709.4,385.6 710.6,380.5 712,380.1 713.3,385 714.6,384.7 716,385.4 717.5,380.7 718.9,374.6 720.4,376.3 721.9,378.5 723.4,377.4 724.8,376.2 726.3,376.7 727.8,375.6 729.3,378.5 730.9,378.6 732.4,382.5 733.7,377.9 735,373.4 736.4,373 737.7,367.6 738.7,369 739.7,373.6 741,370.3 742.4,370.6 743.7,366.6 745.1,365.2 746.5,366.6 747.8,365.1 749.2,366.9 750.6,364.7 752.3,367.2 753.9,370.5 755.6,371.6 757.1,372.4 758.5,369.6 760,370.3 761.5,370.6 763,374.5 764.5,380.5 766,380.8 767.5,380.4 768.9,381.9 770.4,381.5 771.9,382.9 773.4,387.4 774.7,385.7 776,384.5 777.3,381.5 778.7,382.3 780.1,383.2 781.4,380.9 782.8,381.5 784.2,382.5 785.5,384.6 786.9,385.3 788.2,388.4 789.7,388.7 791.2,387.4 792.7,389.4 794.1,394.4 795.6,394.6 797.1,393.4 798.6,400.5 800.1,406.2 801.7,405.2 803.4,405.6 805,406.2 806.5,411.3 808,414.1 809.6,414.2 811.3,413.4 812.9,412.2 814.4,417 815.9,424 817.2,425.4 818.6,425.2 819.9,427 821.2,430.2 822.5,433.1 823.8,434.9 825.3,432.3 826.8,431 828.3,432.5 829.8,431.6 831.2,435.4 832.7,435.9 834.2,439.4 835.7,441.8 837,441.1 838.4,442.4 839.7,441.8 841,445.1 842.3,450.8 843.6,454.7 844.8,454.4 846,453.7 847.2,452.7 848.5,457.7 849.9,464.6 851.5,468.8 853.2,472.5 854.8,474.6 856.5,475 858.1,473.2 859.8,473.6 861.1,476.7 862.4,482.4 863.7,484.5 865.4,485.9 867,489.7 868.7,492.4 870.3,493.5 872,496.1 873.6,497.4 874.9,496.2 876.3,496.8 877.6,495.4 878.9,497 880.3,496.9 881.6,499.4 883.2,501.5 884.9,501.6 886.5,503.3 887.8,506.1 889.2,510.5 890.5,513.2 892.1,513.4 893.8,514.4 895.4,514.2 896.7,517.1 898.1,518.4 899.4,520.1 901,517.7 902.7,519 904.3,516.2 905.6,518.1 907,519.6 908.3,523.1 909.9,526.9 911.6,530.9 913.2,535 914.9,536.6 916.5,536.9 918.2,537 919.5,540 920.8,540.3 922.1,543.9 923.8,545.2 925.4,543.7 927.1,542.9 928.6,542.5 930,544.3 931.5,548.2 933,547.8 934.3,547.3 935.7,548.7 937,548.8 938.6,549 940.3,551.8 941.9,553.8 943.6,552.9 945.2,550.6 946.9,550.8 948.5,553 950.2,553.7 951.8,553.8 953.5,557.5 955.1,561.3 956.8,562.7 958.4,566.7 960.1,569.8 961.7,571.6 963.2,572.5 964.7,573.5 966.1,573.5 967.6,574.6 969.1,575.1 970.6,574.9 972.1,574.7 973.6,575.6 975.2,577.7 976.9,580.3 978.5,581.5 980.2,584.3 981.8,585.8 983.5,587.4 985.1,587.9 986.8,587.6 988.4,588.4 989.9,590.4 991.4,590.6 992.9,592.2 994.4,592.4 995.9,594.9 997.3,594.3 998.8,595.3 1000.3,598.3 1001.7,600.8 1003,599.8 1004.4,602.9 1005.7,601 1007.1,602.8 1008.6,604.8 1010,602.9 1011.5,605.9 1013,605.8 1014.7,605.3 1016.3,606.3 1018,607.8 1019.3,608.5 1020.6,607.9 1021.9,606.8 1023.6,607.9 1025.2,608.9 1026.9,609.8 1028.4,610.7 1029.8,609.7 1031.3,609.4 1032.8,610.8 1034.1,610.9 1035.5,609.1 1036.8,609.8 1038.4,610.4 1040.1,613.9 1041.7,613.7 1043.3,612.1 1045,613.7 1046.6,612.7 1048.3,612.4 1049.9,614.2 1051.6,614.7 1053.2,613.7 1054.9,614.8 1056.5,613.7 1058.2,613.3 1059.8,613 1061.5,613.3 1063.1,613.5 1064.8,613.5 1066.4,614.1 1067.9,616.1 1069.4,614.8 1070.9,618.7 1072.4,618.7 1074,617.5 1075.7,613.7 1077.3,613.3 1079,614.2 1080.6,615.1 1082.3,614.7 1083.9,614.5 1085.6,615.6 1087.2,615.3 1088.9,614.3 1090.5,614.6 1092.2,612.7 1093.5,612 1094.8,609.9 1096.1,607.8 1097.8,605.7 1099.4,603.1 1101.1,601.8 1102.7,603.4 1104.4,601 1106,602.2 1107.3,603.8 1108.7,606.4 1110,607.8 1111.6,609.5 1113.3,610.3 1114.9,613.7 1116.6,613 1118.2,611.1 1119.9,611.7 1121.4,611.5 1122.8,613.8 1124.3,611.7 1125.8,612.7 1127.3,614.2 1128.8,613.1 1130.2,611.4 1131.7,612.7 1133.2,613.8 1134.7,610.7 1136.2,612.4 1137.7,610.2 1139.1,608.1 1140.5,608.1 1141.8,610.2 1143.2,606.4 1144.6,607.8 1146.3,609.3 1147.9,609.4 1149.6,610.8 1151.2,609.9 1152.9,609.9 1154.5,609.4 1156.1,611.5 1157.8,612 1159.4,612.7 1160.9,613.5 1162.4,613.4 1163.9,613.3 1165.4,612.7 1167,613.7 1168.7,613.7 1170.3,613.7 1172,614.6 1173.6,616.2 1175.3,615.7 1176.9,614.8 1178.6,615 1180.2,613.7 1181.7,615 1183.2,615.5 1184.7,616.2 1186.2,615.7 1187.8,615 1189.5,615.8 1191.1,616.1 1192.4,615.7 1193.8,615.7 1195.1,614.1 1196.6,614.3 1198,614.9 1199.5,616 1201,615.3 1202.5,614.4 1204,615.9 1205.4,613.2 1206.9,614.7 1208.4,616.4 1209.9,615.2 1211.4,615 1212.9,614.7 1214.4,614.4 1216,616.5 1217.5,614.8 1219.1,613.8 1220.6,614 1222.2,613.9 1223.7,614.2 1225.3,614.7 1227,615.3 1228.6,614.6 1230.1,613.6 1231.5,611.8 1233,611.6 1234.5,613.7 1236,611.9 1237.5,613.6 1239,614.4 1240.5,616.1 1242,615.2 1243.5,612.2 1244.8,611.3 1246.1,611.2 1247.4,610.6 1248.7,610.2 1250.1,611.4 1251.4,613 1252.9,614.2 1254.4,615.6 1255.8,612.5 1257.3,611.6 1258.6,612.7 1260,613 1261.3,614.6 1262.6,614.7 1263.9,615.3 1265.2,616.5 1266.5,616.9 1267.9,615.4 1269.2,615.6 1270.5,616.4 1271.9,615.8 1273.2,617.5 1274.9,617 1276.5,617.2 1278.2,617.4 1279.8,618.4 1281.5,617.5" stroke="#7570B3" stroke-width="1.5"/>
<path d="M300.5,634.6 V661.5 M1281.5,617.5 V661.5" stroke="#7570B3" stroke-width="1" fill="none"/>
<g clip-path="url(#a-pink)"><use href="#bg"/></g>
<path class="c" d="M237.4,707.8 237.6,707.8 238.8,707.7 239.9,708.3 241.1,708.4 242.4,707.2 243.8,707.8 245.1,705.9 246.6,703.3 248.1,703.9 249.6,704.6 251,704.5 252.5,703.4 254,702.9 255.3,703.2 256.7,706.1 258,706.9 259.3,706.9 260.6,704 261.9,704.9 263.6,704 265.2,705.8 266.9,704.9 268.5,702.6 270.2,704.1 271.8,702.9 273.5,702 275.1,702.3 276.8,700.9 278.1,700.9 279.4,698.1 280.7,698.9 282,700.1 283.4,699.3 284.7,700.9 286.1,697.8 287.6,697 288.9,699.5 290.3,698.6 291.6,701.9 292.9,700.4 294.3,698.4 295.6,698 297.2,699.2 298.9,697.6 300.5,697 302.1,696.6 303.8,697.6 305.4,698 307.1,696.8 308.7,698.9 310.4,696.6 312,695.3 313.7,696.1 315.3,694.6 317,695.2 318.6,693.9 320.3,694 321.9,693.7 323.6,694.4 325.2,693.4 326.9,692.2 328.5,691 330.2,691 331.8,689.8 333.5,690 335.1,689.1 336.8,688.7 338.4,687.6 340.1,686.1 341.7,686.4 343.4,686.2 345,685.1 346.7,684.9 348.3,684.1 350,684.1 351.6,683.8 353.3,680.7 354.9,680.1 356.6,681 358.2,679.6 359.9,681.1 361.5,680.3 363.2,677.2 364.8,675.2 366.5,677 368.1,674.5 369.8,676.2 371.4,676 373.1,673.1 374.7,672.2 376.4,673 378,672.1 379.7,672.2 381.3,669.2 383,672 384.6,668.3 386.3,666.4 387.9,670.7 389.6,669.3 391.2,668.6 392.9,668.3 394.5,666.3 396,664.7 397.4,665.5 398.9,667.1 400.4,667.3 401.9,664.6 403.4,664.2 404.9,663.3 406.4,663.3 408,662.3 409.7,659.6 411.3,659.4 412.8,657.6 414.3,658.9 415.8,656.9 417.3,658.4 418.8,659.7 420.2,657.2 421.7,656.1 423.2,655.4 424.8,654 426.5,650.7 428.1,650.5 429.8,650.2 431.4,648.6 433.1,647.5 434.6,644.8 436.1,645.3 437.5,644 439,644.5 440.3,643 441.7,643.3 443,640.6 444.6,638.8 446.3,637.4 447.9,637.6 449.6,634.8 451.2,632.4 452.9,631.7 454.2,628.1 455.5,628.9 456.8,624.7 458.5,624.7 460.1,623.8 461.8,622.7 463.2,619.2 464.7,617.7 466.2,622.7 467.7,623.7 469,620.5 470.4,618.7 471.7,617.7 473,614.4 474.3,611.4 475.6,609.8 477.3,610.7 478.9,604.9 480.6,605.9 481.9,604.3 483.2,602.5 484.5,601.9 485.8,601.2 487.2,603.7 488.5,602.9 490,597.1 491.5,590 492.9,591.5 494.4,592 495.7,590.7 497.1,586.7 498.4,584.1 500,584 501.7,580.8 503.3,578.2 504.8,572.7 506.2,570.4 507.7,567.7 509.2,571.4 510.8,574.2 512.3,574 513.7,570.5 515.2,568.3 516.8,565.4 518.5,564.3 520.1,559.4 521.4,557.6 522.8,551.2 524.1,550.5 525.6,554.6 527.1,554.4 528.7,550.1 530.4,545.1 532,542.5 533.7,541.6 535.3,538.8 537,538.6 538.3,536.4 539.6,536.5 540.9,534.6 542.4,530.9 543.9,527.7 544.9,524 545.9,517.8 547.2,514.6 548.5,515 549.8,510.9 551.1,510.2 552.5,508.9 553.8,506.9 555.4,505.9 557.1,506.7 558.7,507.9 559.9,505.9 561.1,503.6 562.7,506.9 564,506 565.3,504.3 566.6,502 567.9,495.7 569.2,486.4 570.6,483 572,479 573.3,478.3 574.7,479.7 576.1,474.6 577.6,474.4 579.1,471.3 580.6,471.4 582.1,470.6 583.4,469.9 584.7,463.4 586,462.7 587.5,459.7 589,460.6 590.5,456.3 592,452.8 593.5,453 595,454.4 596.4,454 597.9,453.8 599.4,449.5 600.8,446.6 602.3,445.6 603.8,440.9 605.3,438 606.8,438.6 608.3,439 609.8,437 611.3,434.7 612.8,429.8 614.2,422.6 615.7,419.2 617.2,416.4 618.7,414.1 620.1,413.7 621.6,409.3 623.1,405.5 624.6,405.3 626.1,406.7 627.6,404.3 629.1,404 630.5,404.7 632,400.6 633.5,401.3 635.2,404.7 636.8,405.2 638.5,409.3 639.8,408.1 641.1,401.7 642.4,396 643.7,394.4 645.2,392.9 646.7,392.3 648.2,389.4 649.7,388.4 651.3,388.7 653,387.5 654.6,387.4 656.3,386.2 657.9,386.5 659.6,385.4 661,383.3 662.4,382.2 663.7,377.2 665.1,380.9 666.5,376.5 667.8,374 669.1,373.2 670.5,372.8 671.8,370.6 673,369.5 674.2,370.5 675.4,370.6 676.9,378.1 678.4,382.5 680,385.8 681.7,387 683.3,392.4 684.3,388.4 685.3,386.4 686.6,388.8 688,389.9 689.3,391.4 690.7,390.3 692.1,389.3 693.4,386.2 694.8,389.2 696.2,386.4 697.8,389.4 699.5,390 701.1,392.4 702.1,390.1 703.1,388.4 704.6,393.7 706.1,398.3 707.6,394.9 709.1,395.4 710.6,392.4 711.8,396.3 713,401.3 714.5,406.8 716,404.2 717.4,407.8 718.9,412.2 720.4,412.6 721.9,413.2 723.4,418.4 724.9,424 726.2,423.2 727.5,426.1 728.8,425 730.1,427.8 731.5,430.9 732.8,434.9 734.1,434.4 735.5,431.7 736.8,430 738.2,435.4 739.7,439.9 740,439.6 741.3,442.7 742.7,444.6 744,447.5 745.5,444.6 746.9,444.5 748.6,444.3 750.2,446.9 751.9,445.5 753.3,450.7 754.8,457.4 756.5,461.1 758.1,461.6 759.8,466.3 761.4,468.6 763.1,471.8 764.7,473.2 766,474.4 767.4,474.6 768.7,475.2 770.3,476.9 772,478 773.6,478.2 774.9,481 776.3,487.4 777.6,489.1 778.9,489.2 780.3,496.8 781.6,497 783,501.2 784.5,508.8 785.8,510.3 787.2,512.4 788.5,515.8 789.8,519.3 791.1,520.7 792.4,523.7 794.1,523.8 795.7,527.1 797.4,527.6 798.9,528.4 800.3,531.4 801.8,536.9 803.3,537.5 804.8,536.5 806.3,535.6 807.8,541.1 809.3,544.5 810.9,544.3 812.6,548.1 814.2,547.4 815.7,546.3 817.2,546.4 818.7,551.2 820.1,552.4 821.6,551.8 823.1,552.4 824.4,557.9 825.8,560.9 827.1,564.2 828.3,567.9 829.4,571.5 830.6,575.1 832.3,572.3 834,569.2 835.3,573.1 836.7,577.5 838,579.1 839.6,578.3 841.3,581.2 842.9,582.1 844.2,581.3 845.6,582 846.9,582.1 848.2,583.1 849.5,585.6 850.8,588 852.1,589.8 853.5,592.4 854.8,594.9 855.8,593.4 856.8,592.9 858.2,595.8 859.7,600.9 861.2,600.3 862.7,597.9 864.3,598.1 866,604.4 867.6,604.8 869.1,605.1 870.6,604.8 871.9,609 873.3,612.4 874.6,617.7 876,616.5 877.5,614.7 878.8,617.7 880.2,617.9 881.5,620.6 883.1,622.2 884.6,624.8 886.2,624.3 887.7,626.6 889.3,628.4 890.8,627.1 892.4,629 894.1,631.5 895.7,631.5 897.4,631 898.9,634.4 900.3,633 901.8,636.5 903.3,636.9 904.8,636.5 906.3,634.9 907.6,636.6 909,642 910.3,642.8 911.8,641.9 913.2,641.8 914.5,644.7 915.9,649 917.2,649.8 918.7,651.3 920.2,651.3 921.6,654.3 923.1,655.7 924.6,658.7 926.1,656.8 927.6,660 929.1,660.6 930.5,659.6 932,662.7 933.4,662.6 934.8,665.5 936.1,665.9 937.5,667.4 938.8,669.5 940.3,667.1 941.8,666.5 943.4,669.3 945.1,668.1 946.7,672.4 948.4,674.1 950,673.7 951.7,673.4 953.3,672.6 955,673 956.6,674.4 957.9,677.4 959.3,675.7 960.6,677.8 962.2,678.2 963.9,676.1 965.5,677.4 967.2,680.1 968.8,676.7 970.5,679.4 972.1,679.2 973.8,680 975.4,678.4 976.9,680 978.4,682.9 980,682.4 981.7,680.1 983.3,679.8 984.6,681.9 986,682.6 987.3,683.7 988.9,683.2 990.6,680.5 992.2,680.9 993.7,681.5 995.2,679.5 996.7,680.7 998.2,681.3 999.8,683 1001.5,681.7 1003.1,683.7 1004.8,684.7 1006.4,683.3 1008.1,684.3 1009.4,684.6 1010.7,682.8 1012,682.9 1013.3,683.5 1014.7,682.6 1016,681.7 1017.6,681.7 1019.3,684.3 1020.9,683.7 1022.2,682.8 1023.6,686 1024.9,685.3 1026.2,685.3 1027.5,682.8 1028.8,682.9 1030.5,683 1032.1,681.7 1033.8,679.4 1035.3,677.3 1036.8,675.8 1038.1,676.7 1039.4,675.6 1040.7,675.4 1042,675.6 1043.4,676.3 1044.7,677.8 1046,677.7 1047.3,681 1048.6,680.4 1049.9,682.3 1051.3,682.3 1052.6,683.3 1053.9,681.7 1055.2,681.9 1056.5,681.3 1057.8,682 1059.2,683 1060.5,682.9 1061.8,682.3 1063.2,683.8 1064.5,685.7 1066,682.2 1067.4,681.3 1069.1,679.5 1070.7,680 1072.4,679.4 1073.7,679 1075,680.2 1076.3,680.4 1077.8,678.2 1079.3,678.4 1080.8,678 1082.2,677.4 1083.7,676.4 1085.2,677.8 1086.9,681 1088.5,678.2 1090.2,680.4 1091.5,680.7 1092.8,679 1094.1,678.4 1095.8,679.3 1097.4,678 1099.1,680.4 1100.7,681.1 1102.4,681.9 1104,681.3 1105.7,679.8 1107.3,682.3 1109,680.4 1110.6,681.3 1112.3,680.9 1113.9,682.9 1115.4,684.1 1116.9,680.9 1118.4,681 1119.9,681.7 1121.4,683.4 1122.8,682 1124.3,682.1 1125.8,681.3 1127.3,683.2 1128.8,682.6 1130.2,682.5 1131.7,682.3 1133.2,681.3 1134.7,681.6 1136.2,679.3 1137.7,680.4 1139.2,681.2 1140.7,678.2 1142.1,679.6 1143.6,679 1145.1,678.1 1146.6,682.6 1148.1,681.3 1149.6,681.7 1150.9,681.6 1152.2,680.2 1153.5,679.4 1155,679.7 1156.5,682.9 1158.1,680.7 1159.8,682.1 1161.4,679.4 1163.1,680.7 1164.7,680.6 1166.4,681.7 1168,681 1169.7,681.4 1171.3,681.7 1172.6,682.6 1174,683.2 1175.3,682.9 1176.8,681.2 1178.2,681.7 1179.7,683.4 1181.2,681.3 1182.9,682 1184.5,681.4 1186.2,681.7 1187.5,680.1 1188.8,680.8 1190.1,680.4 1191.4,682.5 1192.8,681.3 1194.1,683.7 1195.7,682.8 1197.4,684.5 1199,683.7 1200.3,686 1201.7,686.3 1203,687.3 1204.6,685.3 1206.3,687.8 1207.9,686.3 1209.6,688.3 1211.2,686.8 1212.9,688.3 1214.5,687.5 1216.2,689.5 1217.8,688.9 1218.6,688.9" stroke="#E7298A" stroke-width="1.8"/>
<path d="M237.4,707.8 V741 M1218.6,688.9 V741" stroke="#E7298A" stroke-width="1" fill="none"/>
<g clip-path="url(#a-control)"><use href="#bg"/></g>
<path class="c" d="M174.5,790 174.8,790 176.5,788.5 178.1,790 179.8,789 181.3,787 182.8,787 184.1,786.9 185.4,784.9 186.7,785.6 188.4,786.8 190,786.2 191.7,788 193.3,787.6 195,789 196.6,789 197.6,789.7 198.6,791 200.2,788.8 201.9,789.6 203.5,788 204.8,787.6 206.2,790.2 207.5,790.4 208.8,789.9 210.2,789.4 211.5,789 213.1,788.2 214.8,785.8 216.4,786 217.7,786.2 219.1,786.7 220.4,787 221.4,785.8 222.3,785 223.8,787.4 225.3,788 227,786.9 228.6,787.1 230.3,787 231.9,788.2 233.6,786.5 235.2,788 236.5,787.7 237.9,787 239.2,786.4 240.5,787.5 241.8,789.2 243.1,789.6 244.8,788.1 246.4,788.9 248.1,788 249.7,789.2 251.4,788.1 253,789 254.7,788.6 256.3,787.2 258,787.6 259.6,789.6 261.3,789.1 262.9,789 264.5,787.2 266.2,786.8 267.8,786 269.5,786.5 271.1,785.4 272.8,785 274.4,784.5 276.1,784.6 277.7,783 279.4,783.2 281,785.7 282.7,785 284.3,783.1 286,783.4 287.6,783 288.9,784.3 290.3,784.4 291.6,786 293.2,786.2 294.9,785.3 296.5,784 298.2,784.2 299.8,784.1 301.5,783 303.1,782.2 304.8,783.9 306.4,784 308.1,785.7 309.7,784.6 311.4,786 313,784.8 314.7,783.9 316.3,783.6 318,783.4 319.6,784.7 321.3,785.6 322.9,784.3 324.6,784.5 326.2,785 327.7,785.1 329.2,784.7 330.7,785 332.2,784 333.7,782 335.1,782.3 336.6,782 338.1,781.7 339.6,782 341.1,784 342.5,784.2 344,783.6 345.7,781.9 347.3,782.7 349,783 350.6,784.8 352.3,782.8 353.9,784.4 355.4,786.3 356.9,785.4 358.4,784.7 359.9,785.6 361.4,786.4 362.9,782.2 364.3,782.5 365.8,782.1 367.5,783.2 369.1,782.1 370.8,783 372.4,781.8 374.1,780.5 375.7,780.5 377.3,780.9 379,778.1 380.6,779.1 382.3,780.6 383.9,780 385.6,779.7 387.2,779.3 388.9,778 390.5,777.1 391.8,776.8 393.2,776.2 394.5,776.1 396.1,777.2 397.8,777.5 399.4,779.1 400.9,778.9 402.4,777.6 403.9,777.4 405.4,777.1 407,777.4 408.7,777.7 410.3,778.1 411.8,777.1 413.3,775.5 414.8,776.6 416.3,775.1 417.9,775.3 419.6,774 421.2,774.1 422.9,774.6 424.5,771.6 426.2,772.2 427.8,771.7 429.5,771 431.1,771.2 432.6,770.1 434.1,771 435.5,767.3 437,768.2 438.5,769.4 440,769.4 441.5,768.3 443,769.2 444.6,770 446.3,767.9 447.9,767.8 449.4,767.1 450.9,766.7 452.4,765.2 453.9,765.8 455.5,766.9 457.2,766.4 458.8,765.5 460.4,763.6 462.1,764.7 463.7,763.9 465.4,762.4 467,763.7 468.7,761.9 470.3,760.8 472,760.3 473.6,759.9 475.1,759.7 476.6,761 478.1,760.1 479.6,760.5 480.9,758.2 482.2,755.4 483.5,753 484.8,752.4 486.2,750.6 487.5,750 488.8,751.1 490.2,751.8 491.5,753 493.1,751.9 494.8,749.6 496.4,749.1 497.7,748.1 499,746.7 500.6,747.1 502.3,749.1 503.8,746 505.3,744.7 506.8,745.4 508.3,742.1 509.8,741.8 511.2,741.6 512.7,741.2 514.2,740.1 515.9,738.5 517.5,739.4 519.2,739.2 520.6,738.3 522,740 523.3,737.8 524.7,739.1 526.1,738.8 527.6,737 529.1,734.8 530.7,735.6 532.4,734.2 534,734.2 535.3,732.5 536.7,729.9 538,729.3 539.3,730.6 540.6,729.6 541.9,731.2 543.4,729.8 544.8,727.9 546.3,728.4 547.8,727.3 549.3,724 550.8,721.3 552,719.1 553.2,717.6 554.4,716.4 555.8,714.4 557.3,714 558.7,713 560.2,711 561.7,711.1 563.2,712.1 564.7,709.9 566.1,707.3 567.5,707.8 568.8,706.4 570.2,705.9 571.6,706.5 573.1,707.2 574.5,709.7 576,710.8 577.5,711.5 579.2,711.1 580.8,708.5 582.5,709.1 584.1,708.6 585.8,707.2 587.4,705.9 588.9,703.5 590.4,700.6 591.9,701.6 593.3,700.4 594.8,700.7 596.3,702 598,701 599.6,701.5 601.3,700.6 602.9,699.2 604.6,698.9 606.2,696 607.5,697.6 608.9,698.5 610.2,699.2 611.5,699.2 612.8,698.2 614.1,697.2 615.6,696.3 617.1,698.4 618.6,696.9 620.1,697 621.7,697.5 623.4,697 625,697 626.3,696.5 627.6,695.2 628.8,696.3 630,699.2 631.2,699 632.3,697.2 633.5,695.6 635.2,698.2 636.9,699.2 638.5,699 640.2,697.4 641.8,696.2 643.1,696.6 644.5,698.5 645.8,700.2 647.5,700.1 649.1,698.1 650.8,697.6 652.1,697.8 653.4,700.9 654.7,700.6 656.2,699.2 657.7,697.2 659,697 660.3,697.2 661.6,697.6 663.3,698.3 664.9,699 666.6,700.6 668.2,701.8 669.9,703.7 671.5,705.9 673,705.1 674.5,702.5 676,704.6 677.5,705.6 678.9,709.3 680.4,709.9 682.1,709 683.7,711.1 685.4,711.5 687,709.9 688.7,708.8 690.3,708.5 691.6,708.2 693,708.8 694.3,709.5 695.6,711.4 696.9,711.2 698.2,713 699.5,713.5 700.9,714.2 702.2,715.4 703.7,713.6 705.2,711.1 706.7,710.4 708.1,709.1 709.1,710.7 710.1,713.8 711.8,713.8 713.4,715.1 715.1,715.8 716.4,717.6 717.7,716.5 719,718.4 720.3,721.3 721.7,721.1 723,723.7 724.5,724.7 726,726.2 727.4,724.8 728.9,726.9 730.6,726.6 732.2,729.2 733.9,728.3 735.5,728.9 737.2,728 738.8,732.6 740.4,730.9 742.1,729.7 743.7,732.2 745,735 746.4,733.4 747.7,736.2 749,735.2 750.4,734.9 751.7,733.2 753,734.2 754.3,736.6 755.6,737.2 757.3,737.1 758.9,736.8 760.6,738.2 762.2,738.2 763.9,737.7 765.5,737.2 767.2,738.9 768.8,739.8 770.5,741.1 771.8,742 773.1,741.4 774.4,743.1 776.1,741 777.8,739.7 779,742.1 780.1,742 781.3,744.7 783,744.3 784.6,745 786.3,745.5 787.9,745.9 789.6,746.3 791.2,747.1 792.9,748.2 794.5,748.1 796.2,750.6 797.5,749.6 798.8,750.1 800.1,749.1 801.8,749.8 803.4,750.4 805.1,752 806.6,752 808,751.4 809.5,753.6 811,753 812.3,753.9 813.7,756.9 815,757 816.3,755.9 817.6,755.5 818.9,755 820.6,754.7 822.2,755.1 823.9,756 825.5,755.6 827.2,756.2 828.8,756.6 830.5,756.6 832.1,755.6 833.8,756 835.1,757.3 836.4,758.1 837.7,759.9 839.4,760.1 841,759.8 842.7,759.9 844.3,762 846,761.9 847.6,762.5 849.1,760.4 850.6,759.9 851.9,762.4 853.3,761.6 854.6,763.9 856.2,764.5 857.9,763.8 859.5,763.9 861,765.6 862.5,767.8 864,765.8 865.4,764.9 867.1,766.3 868.7,769.5 870.4,769.8 871.9,767.9 873.3,769.8 874.8,769.3 876.3,767.8 878,768.5 879.6,769.7 881.3,769.8 882.9,769.7 884.6,770.9 886.2,771.8 887.5,770.8 888.9,771.3 890.2,770.8 891.5,770.9 892.8,770.4 894.1,771.2 895.8,771.1 897.4,773.8 899.1,773.2 900.7,773 902.4,772.5 904,772.8 905.3,773.6 906.7,773.3 908,774.8 909.3,773.7 910.7,773.9 912,773.2 913.3,773.3 914.6,772.5 915.9,772.8 917.6,773.1 919.2,774.4 920.9,775.2 922.3,774.8 923.8,772.4 925.1,773.2 926.5,775.2 927.8,775.2 929.3,773.4 930.8,772.8 932.1,772.8 933.4,774 934.7,774.4 936,775.6 937.4,774.8 938.7,775.2 940.2,774.1 941.6,773.2 943.3,772.9 944.9,775.8 946.6,774.8 948.2,774.5 949.9,775.1 951.5,775.8 952.8,774.1 954.2,774.9 955.5,773.2 956.8,774.3 958.1,774.8 959.4,774.8 961.1,773.9 962.7,775.3 964.4,773.8 965.7,771.4 967.1,770.2 968.4,768.4 969.7,766.4 971,763.2 972.3,761.9 973.6,759.4 975,757.4 976.3,756.6 978,756.7 979.6,755.4 980.8,756 982,758.9 983.2,759.9 984.5,761.9 985.9,763.4 987.2,766.9 988.5,768.8 989.8,769.4 991.1,771.8 992.4,773 993.8,773.6 995.1,773.8 996.4,772.8 997.7,773.4 999,771.8 1000,771.2 1001.1,772 1002.8,771.1 1004.4,770.9 1006.1,771.4 1007.4,771.7 1008.7,770.6 1010,769.4 1011.5,770.5 1013,772.4 1014.7,771.9 1016.3,770.3 1018,768.8 1019.6,769.3 1021.3,772.2 1022.9,772.4 1024.5,771.4 1026.2,770.9 1027.8,770.8 1029.5,771.1 1031.1,771.4 1032.8,773.4 1034.3,772.6 1035.8,772.3 1037.2,770.9 1038.7,771.4 1040.4,772.3 1042,771.7 1043.7,772.8 1045.3,773.9 1047,772.9 1048.6,774.4 1049.9,773.4 1051.3,772.5 1052.6,771.4 1054.2,772 1055.9,771.8 1057.5,772.4 1058.8,773.5 1060.2,772.6 1061.5,774 1063.1,774.8 1064.8,773.4 1066.4,772 1067.9,771.8 1069.4,771 1070.9,772.7 1072.4,772.4 1073.9,772.2 1075.3,772.6 1076.8,770.4 1078.3,771.4 1080,771.9 1081.6,770 1083.3,770.8 1084.9,770.6 1086.6,772 1088.2,772.8 1089.9,772.8 1091.5,770.2 1093.2,768.4 1094.5,769.6 1095.8,768.9 1097.1,770.4 1098.6,772.7 1100.1,772.8 1101.7,772 1103.4,771.2 1105,769.4 1106.7,769.8 1108.3,772.2 1110,773.4 1111.5,770.5 1112.9,768.4 1114.6,769 1116.2,770.5 1117.9,771.4 1119.5,770.8 1121.2,771 1122.8,770.8 1124.5,771.7 1126.1,772 1127.8,772 1129.4,770.6 1131.1,771.2 1132.7,771.4 1134.4,771.8 1136,772.9 1137.7,772.4 1139.2,773 1140.7,774.8 1142.1,772.6 1143.6,774.4 1144.9,773.8 1146.3,773.1 1147.6,772 1149,771.2 1150.5,770.8 1152,772.1 1153.5,773.4 1154.5,774.2 1155.5,773.4" stroke="#66A61E" stroke-width="1.8"/>
<path d="M174.5,790 V820.8 M1155.5,773.4 V820.8" stroke="#66A61E" stroke-width="1" fill="none"/>
<path class="k" d="M143.29999999999998,416.9 L457.0,18.5 L1438.6,18.5"/>
<path class="k" d="M143.2,860.8 L1124.3,860.8 L1438.6,463.0"/>
<text class="ax" x="137.2" y="450.8" text-anchor="end">1,300,000</text>
<text class="ax" x="137.2" y="539.8" text-anchor="end">1,040,000</text>
<text class="ax" x="137.2" y="628.5" text-anchor="end">780,000</text>
<text class="ax" x="137.2" y="717.3" text-anchor="end">520,000</text>
<text class="ax" x="137.2" y="806.2" text-anchor="end">260,000</text>
<text class="ax" x="142.5" y="902.7" text-anchor="middle">30.5</text>
<text class="ax" x="470.1" y="902.7" text-anchor="middle">31.0</text>
<text class="ax" x="797.3" y="902.7" text-anchor="middle">31.5</text>
<text class="ax" x="1124.5" y="902.7" text-anchor="middle">32.0</text>
<text class="ax" x="646.6" y="960.5" text-anchor="middle">Retention time(min)</text>
<text class="zl" transform="translate(1173.5,840.3) matrix(1.36,0,-0.5,1,0,0)">Control</text>
<text class="zl" transform="translate(1236.3,760.2) matrix(1.36,0,-0.5,1,0,0)">15kV</text>
<text class="zl" transform="translate(1298.6,680.6) matrix(1.36,0,-0.5,1,0,0)">20kV</text>
<text class="zl" transform="translate(1361,601) matrix(1.36,0,-0.5,1,0,0)">25kV</text>
<text class="zl" transform="translate(1424,521.6) matrix(1.36,0,-0.5,1,0,0)">30kV</text>
<text x="785.8" y="1102" text-anchor="middle" font-size="54px">(<tspan font-weight="bold">b</tspan>)</text>
</svg>
</body>
</html>
